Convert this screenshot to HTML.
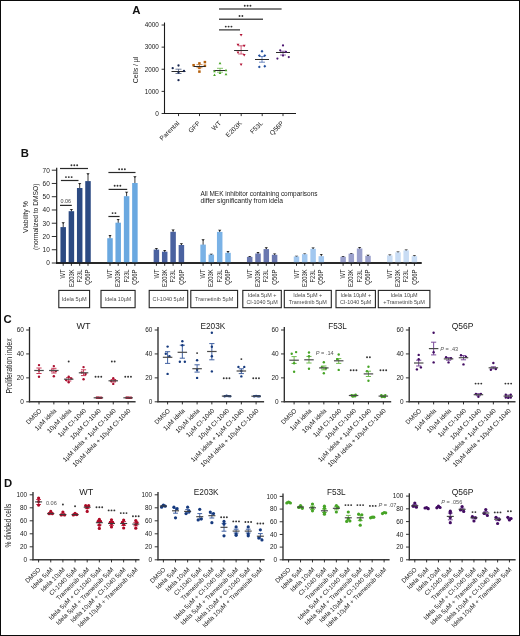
<!DOCTYPE html>
<html><head><meta charset="utf-8"><title>Figure</title>
<style>
html,body{margin:0;padding:0;background:#fff;}
body{width:520px;height:636px;overflow:hidden;font-family:"Liberation Sans",sans-serif;}
svg{display:block;will-change:transform;}
text{font-family:"Liberation Sans",sans-serif;}
</style></head><body>
<svg width="520" height="636" viewBox="0 0 520 636" font-family="Liberation Sans, sans-serif">
<rect x="0" y="0" width="520" height="636" fill="#fff"/>
<text x="132.2" y="13.6" font-size="11.4" fill="#111" font-weight="bold">A</text>
<line x1="164.5" y1="22.5" x2="164.5" y2="114" stroke="#1a1a1a" stroke-width="1.1"/>
<line x1="164" y1="113.5" x2="296" y2="113.5" stroke="#1a1a1a" stroke-width="1.1"/>
<line x1="161.6" y1="113.5" x2="164.5" y2="113.5" stroke="#1a1a1a" stroke-width="0.9"/>
<text x="158.8" y="115.85" font-size="6.5" fill="#202020" text-anchor="end" textLength="3.6" lengthAdjust="spacingAndGlyphs">0</text>
<line x1="161.6" y1="91.38" x2="164.5" y2="91.38" stroke="#1a1a1a" stroke-width="0.9"/>
<text x="158.8" y="93.73" font-size="6.5" fill="#202020" text-anchor="end" textLength="14.1" lengthAdjust="spacingAndGlyphs">1000</text>
<line x1="161.6" y1="69.26" x2="164.5" y2="69.26" stroke="#1a1a1a" stroke-width="0.9"/>
<text x="158.8" y="71.61" font-size="6.5" fill="#202020" text-anchor="end" textLength="14.1" lengthAdjust="spacingAndGlyphs">2000</text>
<line x1="161.6" y1="47.14" x2="164.5" y2="47.14" stroke="#1a1a1a" stroke-width="0.9"/>
<text x="158.8" y="49.49" font-size="6.5" fill="#202020" text-anchor="end" textLength="14.1" lengthAdjust="spacingAndGlyphs">3000</text>
<line x1="161.6" y1="25.02" x2="164.5" y2="25.02" stroke="#1a1a1a" stroke-width="0.9"/>
<text x="158.8" y="27.37" font-size="6.5" fill="#202020" text-anchor="end" textLength="14.1" lengthAdjust="spacingAndGlyphs">4000</text>
<text x="138.5" y="69.9" font-size="7.6" fill="#202020" text-anchor="middle" transform="rotate(-90 138.5 69.9)" textLength="26.6" lengthAdjust="spacingAndGlyphs">Cells / µl</text>
<line x1="178.5" y1="113.5" x2="178.5" y2="116.1" stroke="#1a1a1a" stroke-width="0.9"/>
<text x="179.7" y="123.7" font-size="6.6" fill="#202020" text-anchor="end" transform="rotate(-45 179.7 123.7)">Parental</text>
<line x1="199.5" y1="113.5" x2="199.5" y2="116.1" stroke="#1a1a1a" stroke-width="0.9"/>
<text x="200.7" y="123.7" font-size="6.6" fill="#202020" text-anchor="end" transform="rotate(-45 200.7 123.7)">GFP</text>
<line x1="220.3" y1="113.5" x2="220.3" y2="116.1" stroke="#1a1a1a" stroke-width="0.9"/>
<text x="221.5" y="123.7" font-size="6.6" fill="#202020" text-anchor="end" transform="rotate(-45 221.5 123.7)">WT</text>
<line x1="241.2" y1="113.5" x2="241.2" y2="116.1" stroke="#1a1a1a" stroke-width="0.9"/>
<text x="242.4" y="123.7" font-size="6.6" fill="#202020" text-anchor="end" transform="rotate(-45 242.4 123.7)">E203K</text>
<line x1="262.2" y1="113.5" x2="262.2" y2="116.1" stroke="#1a1a1a" stroke-width="0.9"/>
<text x="263.4" y="123.7" font-size="6.6" fill="#202020" text-anchor="end" transform="rotate(-45 263.4 123.7)">F53L</text>
<line x1="283" y1="113.5" x2="283" y2="116.1" stroke="#1a1a1a" stroke-width="0.9"/>
<text x="284.2" y="123.7" font-size="6.6" fill="#202020" text-anchor="end" transform="rotate(-45 284.2 123.7)">Q56P</text>
<line x1="219" y1="9.1" x2="281.6" y2="9.1" stroke="#585858" stroke-width="1.5"/>
<circle cx="244.75" cy="5.8" r="0.95" fill="#333"/>
<circle cx="247.6" cy="5.8" r="0.95" fill="#333"/>
<circle cx="250.45" cy="5.8" r="0.95" fill="#333"/>
<line x1="219" y1="19.3" x2="263" y2="19.3" stroke="#505050" stroke-width="1.5"/>
<circle cx="239.52" cy="16" r="0.95" fill="#333"/>
<circle cx="242.38" cy="16" r="0.95" fill="#333"/>
<line x1="219" y1="29.85" x2="240" y2="29.85" stroke="#585858" stroke-width="1.5"/>
<circle cx="225.75" cy="26.6" r="0.95" fill="#333"/>
<circle cx="228.6" cy="26.6" r="0.95" fill="#333"/>
<circle cx="231.45" cy="26.6" r="0.95" fill="#333"/>
<line x1="178.5" y1="69.2" x2="178.5" y2="73.5" stroke="#4a5a80" stroke-width="0.8"/>
<line x1="175.5" y1="69.2" x2="181.5" y2="69.2" stroke="#4a5a80" stroke-width="0.8"/>
<line x1="175.5" y1="73.5" x2="181.5" y2="73.5" stroke="#4a5a80" stroke-width="0.8"/>
<line x1="171.5" y1="71.5" x2="185.5" y2="71.5" stroke="#2a2a2a" stroke-width="1"/>
<circle cx="178.5" cy="65.5" r="1.15" fill="#1a2852"/>
<circle cx="172.7" cy="68.2" r="1.15" fill="#1a2852"/>
<circle cx="184" cy="71" r="1.15" fill="#1a2852"/>
<circle cx="178.5" cy="80.2" r="1.15" fill="#1a2852"/>
<circle cx="178.5" cy="72.6" r="1.15" fill="#1a2852"/>
<rect x="192.35" y="63.95" width="2.5" height="2.5" fill="#b5600c"/>
<rect x="198.15" y="62.15" width="2.5" height="2.5" fill="#b5600c"/>
<rect x="203.65" y="60.85" width="2.5" height="2.5" fill="#b5600c"/>
<rect x="203.65" y="64.55" width="2.5" height="2.5" fill="#b5600c"/>
<rect x="198.15" y="66.65" width="2.5" height="2.5" fill="#b5600c"/>
<rect x="198.15" y="70.35" width="2.5" height="2.5" fill="#b5600c"/>
<line x1="199.5" y1="64.6" x2="199.5" y2="67.7" stroke="#c07a3a" stroke-width="0.8"/>
<line x1="196.5" y1="64.6" x2="202.5" y2="64.6" stroke="#c07a3a" stroke-width="0.8"/>
<line x1="196.5" y1="67.7" x2="202.5" y2="67.7" stroke="#c07a3a" stroke-width="0.8"/>
<line x1="193.5" y1="66.5" x2="205.5" y2="66.5" stroke="#2a2a2a" stroke-width="1"/>
<line x1="220" y1="68.3" x2="220" y2="72.2" stroke="#6ab84a" stroke-width="0.8"/>
<line x1="217" y1="68.3" x2="223" y2="68.3" stroke="#6ab84a" stroke-width="0.8"/>
<line x1="217" y1="72.2" x2="223" y2="72.2" stroke="#6ab84a" stroke-width="0.8"/>
<line x1="213.5" y1="70.5" x2="226.5" y2="70.5" stroke="#2a2a2a" stroke-width="1"/>
<polygon points="220,61.74 218.6,64.26 221.4,64.26" fill="#48a526"/>
<polygon points="214.5,69.74 213.1,72.26 215.9,72.26" fill="#48a526"/>
<polygon points="226,68.74 224.6,71.26 227.4,71.26" fill="#48a526"/>
<polygon points="214.5,73.44 213.1,75.96 215.9,75.96" fill="#48a526"/>
<polygon points="226,72.84 224.6,75.36 227.4,75.36" fill="#48a526"/>
<polygon points="220,71.54 218.6,74.06 221.4,74.06" fill="#48a526"/>
<line x1="241.1" y1="45.8" x2="241.1" y2="54" stroke="#c4385a" stroke-width="0.8"/>
<line x1="238.1" y1="45.8" x2="244.1" y2="45.8" stroke="#c4385a" stroke-width="0.8"/>
<line x1="238.1" y1="54" x2="244.1" y2="54" stroke="#c4385a" stroke-width="0.8"/>
<line x1="234.1" y1="50.5" x2="248.1" y2="50.5" stroke="#2a2a2a" stroke-width="1"/>
<polygon points="241.1,36.51 239.65,33.9 242.55,33.9" fill="#b21234"/>
<polygon points="238,46.3 236.55,43.7 239.45,43.7" fill="#b21234"/>
<polygon points="244.2,47.3 242.75,44.7 245.65,44.7" fill="#b21234"/>
<polygon points="238,54.1 236.55,51.49 239.45,51.49" fill="#b21234"/>
<polygon points="244.2,56.51 242.75,53.9 245.65,53.9" fill="#b21234"/>
<polygon points="241.1,66.01 239.65,63.4 242.55,63.4" fill="#b21234"/>
<line x1="262" y1="56.5" x2="262" y2="62.2" stroke="#4a6cb0" stroke-width="0.8"/>
<line x1="259" y1="56.5" x2="265" y2="56.5" stroke="#4a6cb0" stroke-width="0.8"/>
<line x1="259" y1="62.2" x2="265" y2="62.2" stroke="#4a6cb0" stroke-width="0.8"/>
<line x1="255" y1="59.5" x2="269" y2="59.5" stroke="#2a2a2a" stroke-width="1"/>
<polygon points="262,49.75 263.45,51.2 262,52.65 260.55,51.2" fill="#1f4c9c"/>
<polygon points="259.3,54.15 260.75,55.6 259.3,57.05 257.85,55.6" fill="#1f4c9c"/>
<polygon points="264.8,54.15 266.25,55.6 264.8,57.05 263.35,55.6" fill="#1f4c9c"/>
<polygon points="259.3,65.45 260.75,66.9 259.3,68.35 257.85,66.9" fill="#1f4c9c"/>
<polygon points="264.8,64.85 266.25,66.3 264.8,67.75 263.35,66.3" fill="#1f4c9c"/>
<line x1="283" y1="51.2" x2="283" y2="55" stroke="#7a4a9a" stroke-width="0.8"/>
<line x1="280" y1="51.2" x2="286" y2="51.2" stroke="#7a4a9a" stroke-width="0.8"/>
<line x1="280" y1="55" x2="286" y2="55" stroke="#7a4a9a" stroke-width="0.8"/>
<line x1="276" y1="52.5" x2="290" y2="52.5" stroke="#2a2a2a" stroke-width="1"/>
<circle cx="283" cy="45.4" r="1.1" fill="#4c1672"/>
<circle cx="280.2" cy="50.3" r="1.1" fill="#4c1672"/>
<circle cx="286" cy="51.9" r="1.1" fill="#4c1672"/>
<circle cx="283" cy="55.6" r="1.1" fill="#4c1672"/>
<circle cx="277.4" cy="58.6" r="1.1" fill="#4c1672"/>
<circle cx="288.8" cy="57.1" r="1.1" fill="#4c1672"/>
<text x="20.7" y="157" font-size="11.3" fill="#111" font-weight="bold">B</text>
<line x1="56.7" y1="167.8" x2="56.7" y2="263.6" stroke="#1a1a1a" stroke-width="1.2"/>
<line x1="56.1" y1="263" x2="421.6" y2="263" stroke="#1a1a1a" stroke-width="1.5"/>
<line x1="51.8" y1="263" x2="56.7" y2="263" stroke="#1a1a1a" stroke-width="0.9"/>
<text x="49.8" y="265.3" font-size="6.5" fill="#202020" text-anchor="end" textLength="3.6" lengthAdjust="spacingAndGlyphs">0</text>
<line x1="51.8" y1="249.74" x2="56.7" y2="249.74" stroke="#1a1a1a" stroke-width="0.9"/>
<text x="49.8" y="252.04" font-size="6.5" fill="#202020" text-anchor="end" textLength="7.2" lengthAdjust="spacingAndGlyphs">10</text>
<line x1="51.8" y1="236.49" x2="56.7" y2="236.49" stroke="#1a1a1a" stroke-width="0.9"/>
<text x="49.8" y="238.79" font-size="6.5" fill="#202020" text-anchor="end" textLength="7.2" lengthAdjust="spacingAndGlyphs">20</text>
<line x1="51.8" y1="223.23" x2="56.7" y2="223.23" stroke="#1a1a1a" stroke-width="0.9"/>
<text x="49.8" y="225.53" font-size="6.5" fill="#202020" text-anchor="end" textLength="7.2" lengthAdjust="spacingAndGlyphs">30</text>
<line x1="51.8" y1="209.97" x2="56.7" y2="209.97" stroke="#1a1a1a" stroke-width="0.9"/>
<text x="49.8" y="212.27" font-size="6.5" fill="#202020" text-anchor="end" textLength="7.2" lengthAdjust="spacingAndGlyphs">40</text>
<line x1="51.8" y1="196.71" x2="56.7" y2="196.71" stroke="#1a1a1a" stroke-width="0.9"/>
<text x="49.8" y="199.01" font-size="6.5" fill="#202020" text-anchor="end" textLength="7.2" lengthAdjust="spacingAndGlyphs">50</text>
<line x1="51.8" y1="183.46" x2="56.7" y2="183.46" stroke="#1a1a1a" stroke-width="0.9"/>
<text x="49.8" y="185.76" font-size="6.5" fill="#202020" text-anchor="end" textLength="7.2" lengthAdjust="spacingAndGlyphs">60</text>
<line x1="51.8" y1="170.2" x2="56.7" y2="170.2" stroke="#1a1a1a" stroke-width="0.9"/>
<text x="49.8" y="172.5" font-size="6.5" fill="#202020" text-anchor="end" textLength="7.2" lengthAdjust="spacingAndGlyphs">70</text>
<text x="28.3" y="217.1" font-size="7" fill="#202020" text-anchor="middle" transform="rotate(-90 28.3 217.1)" textLength="31.8" lengthAdjust="spacingAndGlyphs">Viability %</text>
<text x="38.3" y="216.8" font-size="7" fill="#202020" text-anchor="middle" transform="rotate(-90 38.3 216.8)" textLength="66.5" lengthAdjust="spacingAndGlyphs">(normalized to DMSO)</text>
<line x1="63.2" y1="222.6" x2="63.2" y2="227.6" stroke="#3a3a3a" stroke-width="1"/>
<polygon points="61.5,222.3 64.9,222.3 63.2,224" fill="#222"/>
<rect x="60.45" y="227.1" width="5.5" height="35.9" fill="#2c4a82"/>
<line x1="71.4" y1="209.4" x2="71.4" y2="211.7" stroke="#3a3a3a" stroke-width="1"/>
<polygon points="69.7,209.1 73.1,209.1 71.4,210.8" fill="#222"/>
<rect x="68.65" y="211.2" width="5.5" height="51.8" fill="#2c4a82"/>
<line x1="79.7" y1="183.4" x2="79.7" y2="188.5" stroke="#3a3a3a" stroke-width="1"/>
<polygon points="78,183.1 81.4,183.1 79.7,184.8" fill="#222"/>
<rect x="76.95" y="188" width="5.5" height="75" fill="#2c4a82"/>
<line x1="88" y1="173.5" x2="88" y2="181.6" stroke="#3a3a3a" stroke-width="1"/>
<polygon points="86.3,173.2 89.7,173.2 88,174.9" fill="#222"/>
<rect x="85.25" y="181.1" width="5.5" height="81.9" fill="#2c4a82"/>
<line x1="63.2" y1="263" x2="63.2" y2="265.8" stroke="#1a1a1a" stroke-width="0.9"/>
<text x="65.4" y="269.4" font-size="6.3" fill="#202020" text-anchor="end" transform="rotate(-90 65.4 269.4)" textLength="9" lengthAdjust="spacingAndGlyphs">WT</text>
<line x1="71.4" y1="263" x2="71.4" y2="265.8" stroke="#1a1a1a" stroke-width="0.9"/>
<text x="73.6" y="269.4" font-size="6.3" fill="#202020" text-anchor="end" transform="rotate(-90 73.6 269.4)" textLength="17.6" lengthAdjust="spacingAndGlyphs">E203K</text>
<line x1="79.7" y1="263" x2="79.7" y2="265.8" stroke="#1a1a1a" stroke-width="0.9"/>
<text x="81.9" y="269.4" font-size="6.3" fill="#202020" text-anchor="end" transform="rotate(-90 81.9 269.4)" textLength="13.2" lengthAdjust="spacingAndGlyphs">F23L</text>
<line x1="88" y1="263" x2="88" y2="265.8" stroke="#1a1a1a" stroke-width="0.9"/>
<text x="90.2" y="269.4" font-size="6.3" fill="#202020" text-anchor="end" transform="rotate(-90 90.2 269.4)" textLength="15.3" lengthAdjust="spacingAndGlyphs">Q56P</text>
<line x1="110" y1="235.4" x2="110" y2="238.7" stroke="#3a3a3a" stroke-width="1"/>
<polygon points="108.3,235.1 111.7,235.1 110,236.8" fill="#222"/>
<rect x="107.25" y="238.2" width="5.5" height="24.8" fill="#6aa8e0"/>
<line x1="118.2" y1="219.2" x2="118.2" y2="223.2" stroke="#3a3a3a" stroke-width="1"/>
<polygon points="116.5,218.9 119.9,218.9 118.2,220.6" fill="#222"/>
<rect x="115.45" y="222.7" width="5.5" height="40.3" fill="#6aa8e0"/>
<line x1="126.6" y1="192" x2="126.6" y2="196.7" stroke="#3a3a3a" stroke-width="1"/>
<polygon points="124.9,191.7 128.3,191.7 126.6,193.4" fill="#222"/>
<rect x="123.85" y="196.2" width="5.5" height="66.8" fill="#6aa8e0"/>
<line x1="134.9" y1="176.5" x2="134.9" y2="183.5" stroke="#3a3a3a" stroke-width="1"/>
<polygon points="133.2,176.2 136.6,176.2 134.9,177.9" fill="#222"/>
<rect x="132.15" y="183" width="5.5" height="80" fill="#6aa8e0"/>
<line x1="110" y1="263" x2="110" y2="265.8" stroke="#1a1a1a" stroke-width="0.9"/>
<text x="112.2" y="269.4" font-size="6.3" fill="#202020" text-anchor="end" transform="rotate(-90 112.2 269.4)" textLength="9" lengthAdjust="spacingAndGlyphs">WT</text>
<line x1="118.2" y1="263" x2="118.2" y2="265.8" stroke="#1a1a1a" stroke-width="0.9"/>
<text x="120.4" y="269.4" font-size="6.3" fill="#202020" text-anchor="end" transform="rotate(-90 120.4 269.4)" textLength="17.6" lengthAdjust="spacingAndGlyphs">E203K</text>
<line x1="126.6" y1="263" x2="126.6" y2="265.8" stroke="#1a1a1a" stroke-width="0.9"/>
<text x="128.8" y="269.4" font-size="6.3" fill="#202020" text-anchor="end" transform="rotate(-90 128.8 269.4)" textLength="13.2" lengthAdjust="spacingAndGlyphs">F23L</text>
<line x1="134.9" y1="263" x2="134.9" y2="265.8" stroke="#1a1a1a" stroke-width="0.9"/>
<text x="137.1" y="269.4" font-size="6.3" fill="#202020" text-anchor="end" transform="rotate(-90 137.1 269.4)" textLength="15.3" lengthAdjust="spacingAndGlyphs">Q56P</text>
<line x1="156.4" y1="248.3" x2="156.4" y2="250.1" stroke="#3a3a3a" stroke-width="1"/>
<polygon points="154.7,248 158.1,248 156.4,249.7" fill="#222"/>
<rect x="153.65" y="249.6" width="5.5" height="13.4" fill="#4a62a0"/>
<line x1="164.7" y1="250.4" x2="164.7" y2="252.2" stroke="#3a3a3a" stroke-width="1"/>
<polygon points="163,250.1 166.4,250.1 164.7,251.8" fill="#222"/>
<rect x="161.95" y="251.7" width="5.5" height="11.3" fill="#4a62a0"/>
<line x1="173.1" y1="229.8" x2="173.1" y2="232.3" stroke="#3a3a3a" stroke-width="1"/>
<polygon points="171.4,229.5 174.8,229.5 173.1,231.2" fill="#222"/>
<rect x="170.35" y="231.8" width="5.5" height="31.2" fill="#4a62a0"/>
<line x1="181.4" y1="243.5" x2="181.4" y2="245.5" stroke="#3a3a3a" stroke-width="1"/>
<polygon points="179.7,243.2 183.1,243.2 181.4,244.9" fill="#222"/>
<rect x="178.65" y="245" width="5.5" height="18" fill="#4a62a0"/>
<line x1="156.4" y1="263" x2="156.4" y2="265.8" stroke="#1a1a1a" stroke-width="0.9"/>
<text x="158.6" y="269.4" font-size="6.3" fill="#202020" text-anchor="end" transform="rotate(-90 158.6 269.4)" textLength="9" lengthAdjust="spacingAndGlyphs">WT</text>
<line x1="164.7" y1="263" x2="164.7" y2="265.8" stroke="#1a1a1a" stroke-width="0.9"/>
<text x="166.9" y="269.4" font-size="6.3" fill="#202020" text-anchor="end" transform="rotate(-90 166.9 269.4)" textLength="17.6" lengthAdjust="spacingAndGlyphs">E203K</text>
<line x1="173.1" y1="263" x2="173.1" y2="265.8" stroke="#1a1a1a" stroke-width="0.9"/>
<text x="175.3" y="269.4" font-size="6.3" fill="#202020" text-anchor="end" transform="rotate(-90 175.3 269.4)" textLength="13.2" lengthAdjust="spacingAndGlyphs">F23L</text>
<line x1="181.4" y1="263" x2="181.4" y2="265.8" stroke="#1a1a1a" stroke-width="0.9"/>
<text x="183.6" y="269.4" font-size="6.3" fill="#202020" text-anchor="end" transform="rotate(-90 183.6 269.4)" textLength="15.3" lengthAdjust="spacingAndGlyphs">Q56P</text>
<line x1="203.1" y1="239.5" x2="203.1" y2="245.1" stroke="#3a3a3a" stroke-width="1"/>
<polygon points="201.4,239.2 204.8,239.2 203.1,240.9" fill="#222"/>
<rect x="200.35" y="244.6" width="5.5" height="18.4" fill="#7ab2e6"/>
<line x1="211.3" y1="254" x2="211.3" y2="255.1" stroke="#3a3a3a" stroke-width="1"/>
<polygon points="209.6,253.7 213,253.7 211.3,255.4" fill="#222"/>
<rect x="208.55" y="254.6" width="5.5" height="8.4" fill="#7ab2e6"/>
<line x1="219.7" y1="230" x2="219.7" y2="232.4" stroke="#3a3a3a" stroke-width="1"/>
<polygon points="218,229.7 221.4,229.7 219.7,231.4" fill="#222"/>
<rect x="216.95" y="231.9" width="5.5" height="31.1" fill="#7ab2e6"/>
<line x1="228" y1="251.3" x2="228" y2="253.3" stroke="#3a3a3a" stroke-width="1"/>
<polygon points="226.3,251 229.7,251 228,252.7" fill="#222"/>
<rect x="225.25" y="252.8" width="5.5" height="10.2" fill="#7ab2e6"/>
<line x1="203.1" y1="263" x2="203.1" y2="265.8" stroke="#1a1a1a" stroke-width="0.9"/>
<text x="205.3" y="269.4" font-size="6.3" fill="#202020" text-anchor="end" transform="rotate(-90 205.3 269.4)" textLength="9" lengthAdjust="spacingAndGlyphs">WT</text>
<line x1="211.3" y1="263" x2="211.3" y2="265.8" stroke="#1a1a1a" stroke-width="0.9"/>
<text x="213.5" y="269.4" font-size="6.3" fill="#202020" text-anchor="end" transform="rotate(-90 213.5 269.4)" textLength="17.6" lengthAdjust="spacingAndGlyphs">E203K</text>
<line x1="219.7" y1="263" x2="219.7" y2="265.8" stroke="#1a1a1a" stroke-width="0.9"/>
<text x="221.9" y="269.4" font-size="6.3" fill="#202020" text-anchor="end" transform="rotate(-90 221.9 269.4)" textLength="13.2" lengthAdjust="spacingAndGlyphs">F23L</text>
<line x1="228" y1="263" x2="228" y2="265.8" stroke="#1a1a1a" stroke-width="0.9"/>
<text x="230.2" y="269.4" font-size="6.3" fill="#202020" text-anchor="end" transform="rotate(-90 230.2 269.4)" textLength="15.3" lengthAdjust="spacingAndGlyphs">Q56P</text>
<line x1="249.7" y1="256.2" x2="249.7" y2="257.4" stroke="#3a3a3a" stroke-width="1"/>
<polygon points="248,255.9 251.4,255.9 249.7,257.6" fill="#222"/>
<rect x="246.95" y="256.9" width="5.5" height="6.1" fill="#6a78b0"/>
<line x1="258" y1="252.3" x2="258" y2="254" stroke="#3a3a3a" stroke-width="1"/>
<polygon points="256.3,252 259.7,252 258,253.7" fill="#222"/>
<rect x="255.25" y="253.5" width="5.5" height="9.5" fill="#6a78b0"/>
<line x1="266.3" y1="247.5" x2="266.3" y2="249.6" stroke="#3a3a3a" stroke-width="1"/>
<polygon points="264.6,247.2 268,247.2 266.3,248.9" fill="#222"/>
<rect x="263.55" y="249.1" width="5.5" height="13.9" fill="#6a78b0"/>
<line x1="274.6" y1="253.7" x2="274.6" y2="255.3" stroke="#3a3a3a" stroke-width="1"/>
<polygon points="272.9,253.4 276.3,253.4 274.6,255.1" fill="#222"/>
<rect x="271.85" y="254.8" width="5.5" height="8.2" fill="#6a78b0"/>
<line x1="249.7" y1="263" x2="249.7" y2="265.8" stroke="#1a1a1a" stroke-width="0.9"/>
<text x="251.9" y="269.4" font-size="6.3" fill="#202020" text-anchor="end" transform="rotate(-90 251.9 269.4)" textLength="9" lengthAdjust="spacingAndGlyphs">WT</text>
<line x1="258" y1="263" x2="258" y2="265.8" stroke="#1a1a1a" stroke-width="0.9"/>
<text x="260.2" y="269.4" font-size="6.3" fill="#202020" text-anchor="end" transform="rotate(-90 260.2 269.4)" textLength="17.6" lengthAdjust="spacingAndGlyphs">E203K</text>
<line x1="266.3" y1="263" x2="266.3" y2="265.8" stroke="#1a1a1a" stroke-width="0.9"/>
<text x="268.5" y="269.4" font-size="6.3" fill="#202020" text-anchor="end" transform="rotate(-90 268.5 269.4)" textLength="13.2" lengthAdjust="spacingAndGlyphs">F23L</text>
<line x1="274.6" y1="263" x2="274.6" y2="265.8" stroke="#1a1a1a" stroke-width="0.9"/>
<text x="276.8" y="269.4" font-size="6.3" fill="#202020" text-anchor="end" transform="rotate(-90 276.8 269.4)" textLength="15.3" lengthAdjust="spacingAndGlyphs">Q56P</text>
<line x1="296.5" y1="256" x2="296.5" y2="257" stroke="#3a3a3a" stroke-width="1"/>
<polygon points="294.8,255.7 298.2,255.7 296.5,257.4" fill="#222"/>
<rect x="293.75" y="256.5" width="5.5" height="6.5" fill="#a2c8f0"/>
<line x1="304.7" y1="253.7" x2="304.7" y2="254.7" stroke="#3a3a3a" stroke-width="1"/>
<polygon points="303,253.4 306.4,253.4 304.7,255.1" fill="#222"/>
<rect x="301.95" y="254.2" width="5.5" height="8.8" fill="#a2c8f0"/>
<line x1="313.1" y1="247.7" x2="313.1" y2="249.3" stroke="#3a3a3a" stroke-width="1"/>
<polygon points="311.4,247.4 314.8,247.4 313.1,249.1" fill="#222"/>
<rect x="310.35" y="248.8" width="5.5" height="14.2" fill="#a2c8f0"/>
<line x1="321.3" y1="254.2" x2="321.3" y2="256.7" stroke="#3a3a3a" stroke-width="1"/>
<polygon points="319.6,253.9 323,253.9 321.3,255.6" fill="#222"/>
<rect x="318.55" y="256.2" width="5.5" height="6.8" fill="#a2c8f0"/>
<line x1="296.5" y1="263" x2="296.5" y2="265.8" stroke="#1a1a1a" stroke-width="0.9"/>
<text x="298.7" y="269.4" font-size="6.3" fill="#202020" text-anchor="end" transform="rotate(-90 298.7 269.4)" textLength="9" lengthAdjust="spacingAndGlyphs">WT</text>
<line x1="304.7" y1="263" x2="304.7" y2="265.8" stroke="#1a1a1a" stroke-width="0.9"/>
<text x="306.9" y="269.4" font-size="6.3" fill="#202020" text-anchor="end" transform="rotate(-90 306.9 269.4)" textLength="17.6" lengthAdjust="spacingAndGlyphs">E203K</text>
<line x1="313.1" y1="263" x2="313.1" y2="265.8" stroke="#1a1a1a" stroke-width="0.9"/>
<text x="315.3" y="269.4" font-size="6.3" fill="#202020" text-anchor="end" transform="rotate(-90 315.3 269.4)" textLength="13.2" lengthAdjust="spacingAndGlyphs">F23L</text>
<line x1="321.3" y1="263" x2="321.3" y2="265.8" stroke="#1a1a1a" stroke-width="0.9"/>
<text x="323.5" y="269.4" font-size="6.3" fill="#202020" text-anchor="end" transform="rotate(-90 323.5 269.4)" textLength="15.3" lengthAdjust="spacingAndGlyphs">Q56P</text>
<line x1="343.1" y1="256.3" x2="343.1" y2="257.3" stroke="#3a3a3a" stroke-width="1"/>
<polygon points="341.4,256 344.8,256 343.1,257.7" fill="#222"/>
<rect x="340.35" y="256.8" width="5.5" height="6.2" fill="#9aa0cc"/>
<line x1="351.3" y1="253.2" x2="351.3" y2="254.2" stroke="#3a3a3a" stroke-width="1"/>
<polygon points="349.6,252.9 353,252.9 351.3,254.6" fill="#222"/>
<rect x="348.55" y="253.7" width="5.5" height="9.3" fill="#9aa0cc"/>
<line x1="359.6" y1="247.3" x2="359.6" y2="249" stroke="#3a3a3a" stroke-width="1"/>
<polygon points="357.9,247 361.3,247 359.6,248.7" fill="#222"/>
<rect x="356.85" y="248.5" width="5.5" height="14.5" fill="#9aa0cc"/>
<line x1="368" y1="255" x2="368" y2="256.3" stroke="#3a3a3a" stroke-width="1"/>
<polygon points="366.3,254.7 369.7,254.7 368,256.4" fill="#222"/>
<rect x="365.25" y="255.8" width="5.5" height="7.2" fill="#9aa0cc"/>
<line x1="343.1" y1="263" x2="343.1" y2="265.8" stroke="#1a1a1a" stroke-width="0.9"/>
<text x="345.3" y="269.4" font-size="6.3" fill="#202020" text-anchor="end" transform="rotate(-90 345.3 269.4)" textLength="9" lengthAdjust="spacingAndGlyphs">WT</text>
<line x1="351.3" y1="263" x2="351.3" y2="265.8" stroke="#1a1a1a" stroke-width="0.9"/>
<text x="353.5" y="269.4" font-size="6.3" fill="#202020" text-anchor="end" transform="rotate(-90 353.5 269.4)" textLength="17.6" lengthAdjust="spacingAndGlyphs">E203K</text>
<line x1="359.6" y1="263" x2="359.6" y2="265.8" stroke="#1a1a1a" stroke-width="0.9"/>
<text x="361.8" y="269.4" font-size="6.3" fill="#202020" text-anchor="end" transform="rotate(-90 361.8 269.4)" textLength="13.2" lengthAdjust="spacingAndGlyphs">F23L</text>
<line x1="368" y1="263" x2="368" y2="265.8" stroke="#1a1a1a" stroke-width="0.9"/>
<text x="370.2" y="269.4" font-size="6.3" fill="#202020" text-anchor="end" transform="rotate(-90 370.2 269.4)" textLength="15.3" lengthAdjust="spacingAndGlyphs">Q56P</text>
<line x1="389.8" y1="254.8" x2="389.8" y2="255.9" stroke="#3a3a3a" stroke-width="1"/>
<polygon points="388.1,254.5 391.5,254.5 389.8,256.2" fill="#222"/>
<rect x="387.05" y="255.4" width="5.5" height="7.6" fill="#c8dcf4"/>
<line x1="398" y1="251.8" x2="398" y2="252.8" stroke="#3a3a3a" stroke-width="1"/>
<polygon points="396.3,251.5 399.7,251.5 398,253.2" fill="#222"/>
<rect x="395.25" y="252.3" width="5.5" height="10.7" fill="#c8dcf4"/>
<line x1="406.2" y1="249.8" x2="406.2" y2="250.9" stroke="#3a3a3a" stroke-width="1"/>
<polygon points="404.5,249.5 407.9,249.5 406.2,251.2" fill="#222"/>
<rect x="403.45" y="250.4" width="5.5" height="12.6" fill="#c8dcf4"/>
<line x1="414.4" y1="255.6" x2="414.4" y2="256.7" stroke="#3a3a3a" stroke-width="1"/>
<polygon points="412.7,255.3 416.1,255.3 414.4,257" fill="#222"/>
<rect x="411.65" y="256.2" width="5.5" height="6.8" fill="#c8dcf4"/>
<line x1="389.8" y1="263" x2="389.8" y2="265.8" stroke="#1a1a1a" stroke-width="0.9"/>
<text x="392" y="269.4" font-size="6.3" fill="#202020" text-anchor="end" transform="rotate(-90 392 269.4)" textLength="9" lengthAdjust="spacingAndGlyphs">WT</text>
<line x1="398" y1="263" x2="398" y2="265.8" stroke="#1a1a1a" stroke-width="0.9"/>
<text x="400.2" y="269.4" font-size="6.3" fill="#202020" text-anchor="end" transform="rotate(-90 400.2 269.4)" textLength="17.6" lengthAdjust="spacingAndGlyphs">E203K</text>
<line x1="406.2" y1="263" x2="406.2" y2="265.8" stroke="#1a1a1a" stroke-width="0.9"/>
<text x="408.4" y="269.4" font-size="6.3" fill="#202020" text-anchor="end" transform="rotate(-90 408.4 269.4)" textLength="13.2" lengthAdjust="spacingAndGlyphs">F23L</text>
<line x1="414.4" y1="263" x2="414.4" y2="265.8" stroke="#1a1a1a" stroke-width="0.9"/>
<text x="416.6" y="269.4" font-size="6.3" fill="#202020" text-anchor="end" transform="rotate(-90 416.6 269.4)" textLength="15.3" lengthAdjust="spacingAndGlyphs">Q56P</text>
<line x1="56.1" y1="263" x2="421.6" y2="263" stroke="#1a1a1a" stroke-width="1.5"/>
<line x1="60" y1="168.5" x2="88" y2="168.5" stroke="#2a2a2a" stroke-width="1.2"/>
<circle cx="71.45" cy="165.2" r="0.95" fill="#333"/>
<circle cx="74.3" cy="165.2" r="0.95" fill="#333"/>
<circle cx="77.15" cy="165.2" r="0.95" fill="#333"/>
<line x1="60.9" y1="180.5" x2="78.5" y2="180.5" stroke="#2a2a2a" stroke-width="1.2"/>
<circle cx="65.95" cy="177.1" r="0.95" fill="#333"/>
<circle cx="68.8" cy="177.1" r="0.95" fill="#333"/>
<circle cx="71.65" cy="177.1" r="0.95" fill="#333"/>
<line x1="60" y1="205.4" x2="71.8" y2="205.4" stroke="#2a2a2a" stroke-width="1.2"/>
<text x="60.4" y="202.8" font-size="5.6" fill="#444" textLength="10.6" lengthAdjust="spacingAndGlyphs">0.06</text>
<line x1="108.4" y1="172.5" x2="135.5" y2="172.5" stroke="#2a2a2a" stroke-width="1.2"/>
<circle cx="119.15" cy="169.2" r="0.95" fill="#333"/>
<circle cx="122" cy="169.2" r="0.95" fill="#333"/>
<circle cx="124.85" cy="169.2" r="0.95" fill="#333"/>
<line x1="108.6" y1="189.4" x2="127.2" y2="189.4" stroke="#2a2a2a" stroke-width="1.2"/>
<circle cx="114.65" cy="185.8" r="0.95" fill="#333"/>
<circle cx="117.5" cy="185.8" r="0.95" fill="#333"/>
<circle cx="120.35" cy="185.8" r="0.95" fill="#333"/>
<line x1="108.4" y1="216.5" x2="119.6" y2="216.5" stroke="#2a2a2a" stroke-width="1.2"/>
<circle cx="112.58" cy="213.1" r="0.95" fill="#333"/>
<circle cx="115.42" cy="213.1" r="0.95" fill="#333"/>
<text x="200.5" y="196.3" font-size="6.4" fill="#222" textLength="117" lengthAdjust="spacingAndGlyphs">All MEK inhibitor containing comparisons</text>
<text x="200.5" y="203.2" font-size="6.4" fill="#222" textLength="82.5" lengthAdjust="spacingAndGlyphs">differ significantly from idela</text>
<rect x="58.8" y="290.4" width="30.8" height="17.3" fill="none" stroke="#222" stroke-width="1.1"/>
<text x="74.2" y="301.4" font-size="6" fill="#4a4a4a" text-anchor="middle" textLength="24.8" lengthAdjust="spacingAndGlyphs">Idela 5µM</text>
<rect x="101" y="290.4" width="34.1" height="17.3" fill="none" stroke="#222" stroke-width="1.1"/>
<text x="118.05" y="301.4" font-size="6" fill="#4a4a4a" text-anchor="middle" textLength="26.5" lengthAdjust="spacingAndGlyphs">Idela 10µM</text>
<rect x="149.2" y="290.4" width="38.5" height="17.3" fill="none" stroke="#222" stroke-width="1.1"/>
<text x="168.45" y="301.4" font-size="6" fill="#4a4a4a" text-anchor="middle" textLength="31.9" lengthAdjust="spacingAndGlyphs">CI-1040 5µM</text>
<rect x="190.8" y="290.4" width="46.8" height="17.3" fill="none" stroke="#222" stroke-width="1.1"/>
<text x="214.2" y="301.4" font-size="6" fill="#4a4a4a" text-anchor="middle" textLength="38.2" lengthAdjust="spacingAndGlyphs">Trametinib 5µM</text>
<rect x="242.8" y="290.4" width="38.5" height="17.3" fill="none" stroke="#222" stroke-width="1.1"/>
<text x="262.05" y="297.4" font-size="6" fill="#4a4a4a" text-anchor="middle" textLength="28.6" lengthAdjust="spacingAndGlyphs">Idela 5µM +</text>
<text x="262.05" y="304.1" font-size="6" fill="#4a4a4a" text-anchor="middle" textLength="31.3" lengthAdjust="spacingAndGlyphs">CI-1040 5µM</text>
<rect x="284.3" y="290.4" width="47" height="17.3" fill="none" stroke="#222" stroke-width="1.1"/>
<text x="307.8" y="297.4" font-size="6" fill="#4a4a4a" text-anchor="middle" textLength="29" lengthAdjust="spacingAndGlyphs">Idela 5µM +</text>
<text x="307.8" y="304.1" font-size="6" fill="#4a4a4a" text-anchor="middle" textLength="37.9" lengthAdjust="spacingAndGlyphs">Trametinib 5µM</text>
<rect x="336" y="290.4" width="39.4" height="17.3" fill="none" stroke="#222" stroke-width="1.1"/>
<text x="355.7" y="297.4" font-size="6" fill="#4a4a4a" text-anchor="middle" textLength="30.5" lengthAdjust="spacingAndGlyphs">Idela 10µM +</text>
<text x="355.7" y="304.1" font-size="6" fill="#4a4a4a" text-anchor="middle" textLength="31.3" lengthAdjust="spacingAndGlyphs">CI-1040 5µM</text>
<rect x="378.3" y="290.4" width="51.6" height="17.3" fill="none" stroke="#222" stroke-width="1.1"/>
<text x="404.1" y="297.4" font-size="6" fill="#4a4a4a" text-anchor="middle" textLength="27.1" lengthAdjust="spacingAndGlyphs">Idela 10µM</text>
<text x="404.1" y="304.1" font-size="6" fill="#4a4a4a" text-anchor="middle" textLength="41.7" lengthAdjust="spacingAndGlyphs">+Trametinib 5µM</text>
<text x="3.5" y="323.4" font-size="11.3" fill="#111" font-weight="bold">C</text>
<text x="11.5" y="366" font-size="8.4" fill="#202020" text-anchor="middle" transform="rotate(-90 11.5 366)" textLength="55.2" lengthAdjust="spacingAndGlyphs">Proliferation index</text>
<line x1="29.5" y1="327" x2="29.5" y2="402.3" stroke="#262626" stroke-width="1.3"/>
<line x1="28.9" y1="401.8" x2="135.6" y2="401.8" stroke="#383838" stroke-width="1.5"/>
<line x1="26.2" y1="401.8" x2="29.5" y2="401.8" stroke="#333" stroke-width="1"/>
<text x="23.9" y="404.15" font-size="6.5" fill="#202020" text-anchor="end" textLength="3.6" lengthAdjust="spacingAndGlyphs">0</text>
<line x1="26.2" y1="377.87" x2="29.5" y2="377.87" stroke="#333" stroke-width="1"/>
<text x="23.9" y="380.22" font-size="6.5" fill="#202020" text-anchor="end" textLength="7.2" lengthAdjust="spacingAndGlyphs">20</text>
<line x1="26.2" y1="353.93" x2="29.5" y2="353.93" stroke="#333" stroke-width="1"/>
<text x="23.9" y="356.28" font-size="6.5" fill="#202020" text-anchor="end" textLength="7.2" lengthAdjust="spacingAndGlyphs">40</text>
<line x1="26.2" y1="330" x2="29.5" y2="330" stroke="#333" stroke-width="1"/>
<text x="23.9" y="332.35" font-size="6.5" fill="#202020" text-anchor="end" textLength="7.2" lengthAdjust="spacingAndGlyphs">60</text>
<text x="83.6" y="329.1" font-size="9" fill="#222" text-anchor="middle">WT</text>
<line x1="39" y1="401.8" x2="39" y2="404.4" stroke="#1a1a1a" stroke-width="0.9"/>
<text x="42" y="411.2" font-size="6.4" fill="#202020" text-anchor="end" transform="rotate(-45 42 411.2)">DMSO</text>
<line x1="53.85" y1="401.8" x2="53.85" y2="404.4" stroke="#1a1a1a" stroke-width="0.9"/>
<text x="56.85" y="411.2" font-size="6.4" fill="#202020" text-anchor="end" transform="rotate(-45 56.85 411.2)">1µM idela</text>
<line x1="68.7" y1="401.8" x2="68.7" y2="404.4" stroke="#1a1a1a" stroke-width="0.9"/>
<text x="71.7" y="411.2" font-size="6.4" fill="#202020" text-anchor="end" transform="rotate(-45 71.7 411.2)">10µM idela</text>
<line x1="83.55" y1="401.8" x2="83.55" y2="404.4" stroke="#1a1a1a" stroke-width="0.9"/>
<text x="86.55" y="411.2" font-size="6.4" fill="#202020" text-anchor="end" transform="rotate(-45 86.55 411.2)">1µM CI-1040</text>
<line x1="98.4" y1="401.8" x2="98.4" y2="404.4" stroke="#1a1a1a" stroke-width="0.9"/>
<text x="101.4" y="411.2" font-size="6.4" fill="#202020" text-anchor="end" transform="rotate(-45 101.4 411.2)">10µM CI-1040</text>
<line x1="113.25" y1="401.8" x2="113.25" y2="404.4" stroke="#1a1a1a" stroke-width="0.9"/>
<text x="116.25" y="411.2" font-size="6.4" fill="#202020" text-anchor="end" transform="rotate(-45 116.25 411.2)">1µM idela + 1µM CI-1040</text>
<line x1="128.1" y1="401.8" x2="128.1" y2="404.4" stroke="#1a1a1a" stroke-width="0.9"/>
<text x="131.1" y="411.2" font-size="6.4" fill="#202020" text-anchor="end" transform="rotate(-45 131.1 411.2)">10µM idela + 10µM CI-1040</text>
<line x1="39" y1="368" x2="39" y2="373.5" stroke="#c83a58" stroke-width="1"/>
<line x1="36.4" y1="368" x2="41.6" y2="368" stroke="#c83a58" stroke-width="1"/>
<line x1="36.4" y1="373.5" x2="41.6" y2="373.5" stroke="#c83a58" stroke-width="1"/>
<circle cx="39" cy="365.1" r="1.2" fill="#aa0f2f"/>
<circle cx="39" cy="376.8" r="1.2" fill="#aa0f2f"/>
<circle cx="39" cy="370.5" r="1.2" fill="#aa0f2f"/>
<line x1="34.25" y1="370.5" x2="43.75" y2="370.5" stroke="#4a4a4a" stroke-width="1.2"/>
<line x1="53.85" y1="368.3" x2="53.85" y2="373" stroke="#c83a58" stroke-width="1"/>
<line x1="51.25" y1="368.3" x2="56.45" y2="368.3" stroke="#c83a58" stroke-width="1"/>
<line x1="51.25" y1="373" x2="56.45" y2="373" stroke="#c83a58" stroke-width="1"/>
<circle cx="53.85" cy="366.1" r="1.2" fill="#aa0f2f"/>
<circle cx="53.85" cy="376.2" r="1.2" fill="#aa0f2f"/>
<circle cx="51.85" cy="370.5" r="1.2" fill="#aa0f2f"/>
<circle cx="55.85" cy="371" r="1.2" fill="#aa0f2f"/>
<line x1="49.1" y1="370.5" x2="58.6" y2="370.5" stroke="#4a4a4a" stroke-width="1.2"/>
<line x1="68.7" y1="377.6" x2="68.7" y2="381" stroke="#c83a58" stroke-width="1"/>
<line x1="66.1" y1="377.6" x2="71.3" y2="377.6" stroke="#c83a58" stroke-width="1"/>
<line x1="66.1" y1="381" x2="71.3" y2="381" stroke="#c83a58" stroke-width="1"/>
<circle cx="68.7" cy="376.8" r="1.2" fill="#aa0f2f"/>
<circle cx="68.7" cy="382.3" r="1.2" fill="#aa0f2f"/>
<circle cx="66.1" cy="380" r="1.2" fill="#aa0f2f"/>
<circle cx="71.3" cy="378.5" r="1.2" fill="#aa0f2f"/>
<line x1="63.95" y1="379.2" x2="73.45" y2="379.2" stroke="#4a4a4a" stroke-width="1.2"/>
<line x1="83.55" y1="369.8" x2="83.55" y2="375.6" stroke="#c83a58" stroke-width="1"/>
<line x1="80.95" y1="369.8" x2="86.15" y2="369.8" stroke="#c83a58" stroke-width="1"/>
<line x1="80.95" y1="375.6" x2="86.15" y2="375.6" stroke="#c83a58" stroke-width="1"/>
<circle cx="83.55" cy="367.1" r="1.2" fill="#aa0f2f"/>
<circle cx="83.55" cy="379.2" r="1.2" fill="#aa0f2f"/>
<circle cx="81.75" cy="372.5" r="1.2" fill="#aa0f2f"/>
<circle cx="85.55" cy="374" r="1.2" fill="#aa0f2f"/>
<line x1="78.8" y1="372.8" x2="88.3" y2="372.8" stroke="#4a4a4a" stroke-width="1.2"/>
<line x1="98.4" y1="397.2" x2="98.4" y2="398.4" stroke="#c83a58" stroke-width="1"/>
<line x1="95.8" y1="397.2" x2="101" y2="397.2" stroke="#c83a58" stroke-width="1"/>
<line x1="95.8" y1="398.4" x2="101" y2="398.4" stroke="#c83a58" stroke-width="1"/>
<circle cx="96.9" cy="397.6" r="1.2" fill="#aa0f2f"/>
<circle cx="98.4" cy="397.6" r="1.2" fill="#aa0f2f"/>
<circle cx="99.9" cy="397.9" r="1.2" fill="#aa0f2f"/>
<circle cx="101.4" cy="397.8" r="1.2" fill="#aa0f2f"/>
<line x1="93.65" y1="397.8" x2="103.15" y2="397.8" stroke="#4a4a4a" stroke-width="1.2"/>
<line x1="113.25" y1="379.6" x2="113.25" y2="382" stroke="#c83a58" stroke-width="1"/>
<line x1="110.65" y1="379.6" x2="115.85" y2="379.6" stroke="#c83a58" stroke-width="1"/>
<line x1="110.65" y1="382" x2="115.85" y2="382" stroke="#c83a58" stroke-width="1"/>
<circle cx="113.25" cy="378.2" r="1.2" fill="#aa0f2f"/>
<circle cx="113.25" cy="383.9" r="1.2" fill="#aa0f2f"/>
<circle cx="111.25" cy="381" r="1.2" fill="#aa0f2f"/>
<circle cx="115.25" cy="380.5" r="1.2" fill="#aa0f2f"/>
<line x1="108.5" y1="380.8" x2="118" y2="380.8" stroke="#4a4a4a" stroke-width="1.2"/>
<line x1="128.1" y1="397.2" x2="128.1" y2="398.4" stroke="#c83a58" stroke-width="1"/>
<line x1="125.5" y1="397.2" x2="130.7" y2="397.2" stroke="#c83a58" stroke-width="1"/>
<line x1="125.5" y1="398.4" x2="130.7" y2="398.4" stroke="#c83a58" stroke-width="1"/>
<circle cx="126.6" cy="397.6" r="1.2" fill="#aa0f2f"/>
<circle cx="128.1" cy="397.6" r="1.2" fill="#aa0f2f"/>
<circle cx="129.6" cy="397.9" r="1.2" fill="#aa0f2f"/>
<circle cx="131.1" cy="397.8" r="1.2" fill="#aa0f2f"/>
<line x1="123.35" y1="397.8" x2="132.85" y2="397.8" stroke="#4a4a4a" stroke-width="1.2"/>
<circle cx="68.7" cy="361.5" r="0.95" fill="#333"/>
<circle cx="95.55" cy="376.8" r="0.95" fill="#333"/>
<circle cx="98.4" cy="376.8" r="0.95" fill="#333"/>
<circle cx="101.25" cy="376.8" r="0.95" fill="#333"/>
<circle cx="111.83" cy="361.5" r="0.95" fill="#333"/>
<circle cx="114.67" cy="361.5" r="0.95" fill="#333"/>
<circle cx="125.25" cy="376.8" r="0.95" fill="#333"/>
<circle cx="128.1" cy="376.8" r="0.95" fill="#333"/>
<circle cx="130.95" cy="376.8" r="0.95" fill="#333"/>
<line x1="158" y1="327" x2="158" y2="402.3" stroke="#262626" stroke-width="1.3"/>
<line x1="157.4" y1="401.8" x2="264.1" y2="401.8" stroke="#383838" stroke-width="1.5"/>
<line x1="154.7" y1="401.8" x2="158" y2="401.8" stroke="#333" stroke-width="1"/>
<text x="152.4" y="404.15" font-size="6.5" fill="#202020" text-anchor="end" textLength="3.6" lengthAdjust="spacingAndGlyphs">0</text>
<line x1="154.7" y1="377.87" x2="158" y2="377.87" stroke="#333" stroke-width="1"/>
<text x="152.4" y="380.22" font-size="6.5" fill="#202020" text-anchor="end" textLength="7.2" lengthAdjust="spacingAndGlyphs">20</text>
<line x1="154.7" y1="353.93" x2="158" y2="353.93" stroke="#333" stroke-width="1"/>
<text x="152.4" y="356.28" font-size="6.5" fill="#202020" text-anchor="end" textLength="7.2" lengthAdjust="spacingAndGlyphs">40</text>
<line x1="154.7" y1="330" x2="158" y2="330" stroke="#333" stroke-width="1"/>
<text x="152.4" y="332.35" font-size="6.5" fill="#202020" text-anchor="end" textLength="7.2" lengthAdjust="spacingAndGlyphs">60</text>
<text x="212.9" y="329.1" font-size="9" fill="#222" text-anchor="middle" textLength="24.9" lengthAdjust="spacingAndGlyphs">E203K</text>
<line x1="167.6" y1="401.8" x2="167.6" y2="404.4" stroke="#1a1a1a" stroke-width="0.9"/>
<text x="170.6" y="411.2" font-size="6.4" fill="#202020" text-anchor="end" transform="rotate(-45 170.6 411.2)">DMSO</text>
<line x1="182.35" y1="401.8" x2="182.35" y2="404.4" stroke="#1a1a1a" stroke-width="0.9"/>
<text x="185.35" y="411.2" font-size="6.4" fill="#202020" text-anchor="end" transform="rotate(-45 185.35 411.2)">1µM idela</text>
<line x1="197.1" y1="401.8" x2="197.1" y2="404.4" stroke="#1a1a1a" stroke-width="0.9"/>
<text x="200.1" y="411.2" font-size="6.4" fill="#202020" text-anchor="end" transform="rotate(-45 200.1 411.2)">10µM idela</text>
<line x1="211.85" y1="401.8" x2="211.85" y2="404.4" stroke="#1a1a1a" stroke-width="0.9"/>
<text x="214.85" y="411.2" font-size="6.4" fill="#202020" text-anchor="end" transform="rotate(-45 214.85 411.2)">1µM CI-1040</text>
<line x1="226.6" y1="401.8" x2="226.6" y2="404.4" stroke="#1a1a1a" stroke-width="0.9"/>
<text x="229.6" y="411.2" font-size="6.4" fill="#202020" text-anchor="end" transform="rotate(-45 229.6 411.2)">10µM CI-1040</text>
<line x1="241.35" y1="401.8" x2="241.35" y2="404.4" stroke="#1a1a1a" stroke-width="0.9"/>
<text x="244.35" y="411.2" font-size="6.4" fill="#202020" text-anchor="end" transform="rotate(-45 244.35 411.2)">1µM idela + 1µM CI-1040</text>
<line x1="256.1" y1="401.8" x2="256.1" y2="404.4" stroke="#1a1a1a" stroke-width="0.9"/>
<text x="259.1" y="411.2" font-size="6.4" fill="#202020" text-anchor="end" transform="rotate(-45 259.1 411.2)">10µM idela + 10µM CI-1040</text>
<line x1="167.6" y1="351.7" x2="167.6" y2="363.4" stroke="#4262a2" stroke-width="1"/>
<line x1="165" y1="351.7" x2="170.2" y2="351.7" stroke="#4262a2" stroke-width="1"/>
<line x1="165" y1="363.4" x2="170.2" y2="363.4" stroke="#4262a2" stroke-width="1"/>
<circle cx="167.6" cy="346.6" r="1.2" fill="#163a7e"/>
<circle cx="165.8" cy="353.7" r="1.2" fill="#163a7e"/>
<circle cx="169.4" cy="356.3" r="1.2" fill="#163a7e"/>
<circle cx="167.6" cy="373.9" r="1.2" fill="#163a7e"/>
<line x1="162.85" y1="357.3" x2="172.35" y2="357.3" stroke="#4a4a4a" stroke-width="1.2"/>
<line x1="182.35" y1="345.2" x2="182.35" y2="358.2" stroke="#4262a2" stroke-width="1"/>
<line x1="179.75" y1="345.2" x2="184.95" y2="345.2" stroke="#4262a2" stroke-width="1"/>
<line x1="179.75" y1="358.2" x2="184.95" y2="358.2" stroke="#4262a2" stroke-width="1"/>
<circle cx="182.35" cy="341.2" r="1.2" fill="#163a7e"/>
<circle cx="182.35" cy="345.2" r="1.2" fill="#163a7e"/>
<circle cx="179.85" cy="361.8" r="1.2" fill="#163a7e"/>
<circle cx="184.85" cy="361.8" r="1.2" fill="#163a7e"/>
<line x1="177.6" y1="352.3" x2="187.1" y2="352.3" stroke="#4a4a4a" stroke-width="1.2"/>
<line x1="197.1" y1="364.8" x2="197.1" y2="372.1" stroke="#4262a2" stroke-width="1"/>
<line x1="194.5" y1="364.8" x2="199.7" y2="364.8" stroke="#4262a2" stroke-width="1"/>
<line x1="194.5" y1="372.1" x2="199.7" y2="372.1" stroke="#4262a2" stroke-width="1"/>
<circle cx="197.1" cy="360.2" r="1.2" fill="#163a7e"/>
<circle cx="197.1" cy="369.8" r="1.2" fill="#163a7e"/>
<circle cx="197.1" cy="377.9" r="1.2" fill="#163a7e"/>
<line x1="192.35" y1="368.7" x2="201.85" y2="368.7" stroke="#4a4a4a" stroke-width="1.2"/>
<line x1="211.85" y1="343.6" x2="211.85" y2="359.8" stroke="#4262a2" stroke-width="1"/>
<line x1="209.25" y1="343.6" x2="214.45" y2="343.6" stroke="#4262a2" stroke-width="1"/>
<line x1="209.25" y1="359.8" x2="214.45" y2="359.8" stroke="#4262a2" stroke-width="1"/>
<circle cx="211.85" cy="332.7" r="1.2" fill="#163a7e"/>
<circle cx="211.85" cy="346.8" r="1.2" fill="#163a7e"/>
<circle cx="211.85" cy="356.3" r="1.2" fill="#163a7e"/>
<circle cx="211.85" cy="371.4" r="1.2" fill="#163a7e"/>
<line x1="207.1" y1="351.5" x2="216.6" y2="351.5" stroke="#4a4a4a" stroke-width="1.2"/>
<line x1="226.6" y1="395.5" x2="226.6" y2="396.6" stroke="#4262a2" stroke-width="1"/>
<line x1="224" y1="395.5" x2="229.2" y2="395.5" stroke="#4262a2" stroke-width="1"/>
<line x1="224" y1="396.6" x2="229.2" y2="396.6" stroke="#4262a2" stroke-width="1"/>
<circle cx="224.6" cy="396.2" r="1.2" fill="#163a7e"/>
<circle cx="226.6" cy="395.8" r="1.2" fill="#163a7e"/>
<circle cx="228.6" cy="396.1" r="1.2" fill="#163a7e"/>
<circle cx="230.1" cy="396.2" r="1.2" fill="#163a7e"/>
<line x1="221.85" y1="396.1" x2="231.35" y2="396.1" stroke="#4a4a4a" stroke-width="1.2"/>
<line x1="241.35" y1="368.8" x2="241.35" y2="373.6" stroke="#4262a2" stroke-width="1"/>
<line x1="238.75" y1="368.8" x2="243.95" y2="368.8" stroke="#4262a2" stroke-width="1"/>
<line x1="238.75" y1="373.6" x2="243.95" y2="373.6" stroke="#4262a2" stroke-width="1"/>
<circle cx="238.45" cy="366.9" r="1.2" fill="#163a7e"/>
<circle cx="244.25" cy="366.9" r="1.2" fill="#163a7e"/>
<circle cx="241.35" cy="376.4" r="1.2" fill="#163a7e"/>
<circle cx="241.35" cy="371" r="1.2" fill="#163a7e"/>
<line x1="236.6" y1="371" x2="246.1" y2="371" stroke="#4a4a4a" stroke-width="1.2"/>
<line x1="256.1" y1="395.7" x2="256.1" y2="396.7" stroke="#4262a2" stroke-width="1"/>
<line x1="253.5" y1="395.7" x2="258.7" y2="395.7" stroke="#4262a2" stroke-width="1"/>
<line x1="253.5" y1="396.7" x2="258.7" y2="396.7" stroke="#4262a2" stroke-width="1"/>
<circle cx="254.1" cy="396.3" r="1.2" fill="#163a7e"/>
<circle cx="256.1" cy="395.9" r="1.2" fill="#163a7e"/>
<circle cx="258.1" cy="396.2" r="1.2" fill="#163a7e"/>
<circle cx="259.6" cy="396.3" r="1.2" fill="#163a7e"/>
<line x1="251.35" y1="396.2" x2="260.85" y2="396.2" stroke="#4a4a4a" stroke-width="1.2"/>
<circle cx="197.1" cy="353.1" r="0.95" fill="#333"/>
<circle cx="223.75" cy="378.2" r="0.95" fill="#333"/>
<circle cx="226.6" cy="378.2" r="0.95" fill="#333"/>
<circle cx="229.45" cy="378.2" r="0.95" fill="#333"/>
<circle cx="241.35" cy="359.1" r="0.95" fill="#333"/>
<circle cx="253.25" cy="378.2" r="0.95" fill="#333"/>
<circle cx="256.1" cy="378.2" r="0.95" fill="#333"/>
<circle cx="258.95" cy="378.2" r="0.95" fill="#333"/>
<line x1="284.3" y1="327" x2="284.3" y2="402.3" stroke="#262626" stroke-width="1.3"/>
<line x1="283.7" y1="401.8" x2="391.2" y2="401.8" stroke="#383838" stroke-width="1.5"/>
<line x1="281" y1="401.8" x2="284.3" y2="401.8" stroke="#333" stroke-width="1"/>
<text x="278.7" y="404.15" font-size="6.5" fill="#202020" text-anchor="end" textLength="3.6" lengthAdjust="spacingAndGlyphs">0</text>
<line x1="281" y1="377.87" x2="284.3" y2="377.87" stroke="#333" stroke-width="1"/>
<text x="278.7" y="380.22" font-size="6.5" fill="#202020" text-anchor="end" textLength="7.2" lengthAdjust="spacingAndGlyphs">20</text>
<line x1="281" y1="353.93" x2="284.3" y2="353.93" stroke="#333" stroke-width="1"/>
<text x="278.7" y="356.28" font-size="6.5" fill="#202020" text-anchor="end" textLength="7.2" lengthAdjust="spacingAndGlyphs">40</text>
<line x1="281" y1="330" x2="284.3" y2="330" stroke="#333" stroke-width="1"/>
<text x="278.7" y="332.35" font-size="6.5" fill="#202020" text-anchor="end" textLength="7.2" lengthAdjust="spacingAndGlyphs">60</text>
<text x="337.6" y="329.1" font-size="9" fill="#222" text-anchor="middle" textLength="18.6" lengthAdjust="spacingAndGlyphs">F53L</text>
<line x1="294.1" y1="401.8" x2="294.1" y2="404.4" stroke="#1a1a1a" stroke-width="0.9"/>
<text x="297.1" y="411.2" font-size="6.4" fill="#202020" text-anchor="end" transform="rotate(-45 297.1 411.2)">DMSO</text>
<line x1="308.97" y1="401.8" x2="308.97" y2="404.4" stroke="#1a1a1a" stroke-width="0.9"/>
<text x="311.97" y="411.2" font-size="6.4" fill="#202020" text-anchor="end" transform="rotate(-45 311.97 411.2)">1µM idela</text>
<line x1="323.84" y1="401.8" x2="323.84" y2="404.4" stroke="#1a1a1a" stroke-width="0.9"/>
<text x="326.84" y="411.2" font-size="6.4" fill="#202020" text-anchor="end" transform="rotate(-45 326.84 411.2)">10µM idela</text>
<line x1="338.71" y1="401.8" x2="338.71" y2="404.4" stroke="#1a1a1a" stroke-width="0.9"/>
<text x="341.71" y="411.2" font-size="6.4" fill="#202020" text-anchor="end" transform="rotate(-45 341.71 411.2)">1µM CI-1040</text>
<line x1="353.58" y1="401.8" x2="353.58" y2="404.4" stroke="#1a1a1a" stroke-width="0.9"/>
<text x="356.58" y="411.2" font-size="6.4" fill="#202020" text-anchor="end" transform="rotate(-45 356.58 411.2)">10µM CI-1040</text>
<line x1="368.45" y1="401.8" x2="368.45" y2="404.4" stroke="#1a1a1a" stroke-width="0.9"/>
<text x="371.45" y="411.2" font-size="6.4" fill="#202020" text-anchor="end" transform="rotate(-45 371.45 411.2)">1µM idela + 1µM CI-1040</text>
<line x1="383.32" y1="401.8" x2="383.32" y2="404.4" stroke="#1a1a1a" stroke-width="0.9"/>
<text x="386.32" y="411.2" font-size="6.4" fill="#202020" text-anchor="end" transform="rotate(-45 386.32 411.2)">10µM idela + 10µM CI-1040</text>
<line x1="294.1" y1="356.6" x2="294.1" y2="363.4" stroke="#70bc50" stroke-width="1"/>
<line x1="291.5" y1="356.6" x2="296.7" y2="356.6" stroke="#70bc50" stroke-width="1"/>
<line x1="291.5" y1="363.4" x2="296.7" y2="363.4" stroke="#70bc50" stroke-width="1"/>
<circle cx="291.7" cy="353.7" r="1.2" fill="#46a426"/>
<circle cx="296.1" cy="352.1" r="1.2" fill="#46a426"/>
<circle cx="294.1" cy="363.2" r="1.2" fill="#46a426"/>
<circle cx="294.1" cy="371.7" r="1.2" fill="#46a426"/>
<line x1="289.35" y1="360.2" x2="298.85" y2="360.2" stroke="#4a4a4a" stroke-width="1.2"/>
<line x1="308.97" y1="356.4" x2="308.97" y2="363" stroke="#70bc50" stroke-width="1"/>
<line x1="306.37" y1="356.4" x2="311.57" y2="356.4" stroke="#70bc50" stroke-width="1"/>
<line x1="306.37" y1="363" x2="311.57" y2="363" stroke="#70bc50" stroke-width="1"/>
<circle cx="308.97" cy="352.5" r="1.2" fill="#46a426"/>
<circle cx="308.97" cy="356.2" r="1.2" fill="#46a426"/>
<circle cx="308.97" cy="368.7" r="1.2" fill="#46a426"/>
<line x1="304.22" y1="359.8" x2="313.72" y2="359.8" stroke="#4a4a4a" stroke-width="1.2"/>
<line x1="323.84" y1="366" x2="323.84" y2="369.8" stroke="#70bc50" stroke-width="1"/>
<line x1="321.24" y1="366" x2="326.44" y2="366" stroke="#70bc50" stroke-width="1"/>
<line x1="321.24" y1="369.8" x2="326.44" y2="369.8" stroke="#70bc50" stroke-width="1"/>
<circle cx="323.84" cy="362.2" r="1.2" fill="#46a426"/>
<circle cx="321.84" cy="367.3" r="1.2" fill="#46a426"/>
<circle cx="325.84" cy="368.5" r="1.2" fill="#46a426"/>
<circle cx="323.84" cy="373.3" r="1.2" fill="#46a426"/>
<line x1="319.09" y1="367.9" x2="328.59" y2="367.9" stroke="#4a4a4a" stroke-width="1.2"/>
<line x1="338.71" y1="358.6" x2="338.71" y2="363.4" stroke="#70bc50" stroke-width="1"/>
<line x1="336.11" y1="358.6" x2="341.31" y2="358.6" stroke="#70bc50" stroke-width="1"/>
<line x1="336.11" y1="363.4" x2="341.31" y2="363.4" stroke="#70bc50" stroke-width="1"/>
<circle cx="338.71" cy="354.5" r="1.2" fill="#46a426"/>
<circle cx="337.21" cy="359.2" r="1.2" fill="#46a426"/>
<circle cx="338.71" cy="369.9" r="1.2" fill="#46a426"/>
<line x1="333.96" y1="360.8" x2="343.46" y2="360.8" stroke="#4a4a4a" stroke-width="1.2"/>
<line x1="353.58" y1="394.8" x2="353.58" y2="396.2" stroke="#70bc50" stroke-width="1"/>
<line x1="350.98" y1="394.8" x2="356.18" y2="394.8" stroke="#70bc50" stroke-width="1"/>
<line x1="350.98" y1="396.2" x2="356.18" y2="396.2" stroke="#70bc50" stroke-width="1"/>
<circle cx="351.58" cy="395.3" r="1.2" fill="#46a426"/>
<circle cx="353.58" cy="396.2" r="1.2" fill="#46a426"/>
<circle cx="355.58" cy="394.6" r="1.2" fill="#46a426"/>
<circle cx="352.58" cy="396.5" r="1.2" fill="#46a426"/>
<circle cx="355.08" cy="396.3" r="1.2" fill="#46a426"/>
<line x1="348.83" y1="395.5" x2="358.33" y2="395.5" stroke="#4a4a4a" stroke-width="1.2"/>
<line x1="368.45" y1="371.2" x2="368.45" y2="376.5" stroke="#70bc50" stroke-width="1"/>
<line x1="365.85" y1="371.2" x2="371.05" y2="371.2" stroke="#70bc50" stroke-width="1"/>
<line x1="365.85" y1="376.5" x2="371.05" y2="376.5" stroke="#70bc50" stroke-width="1"/>
<circle cx="368.45" cy="366.7" r="1.2" fill="#46a426"/>
<circle cx="366.95" cy="371.3" r="1.2" fill="#46a426"/>
<circle cx="368.45" cy="380.8" r="1.2" fill="#46a426"/>
<line x1="363.7" y1="373.9" x2="373.2" y2="373.9" stroke="#4a4a4a" stroke-width="1.2"/>
<line x1="383.32" y1="395.3" x2="383.32" y2="396.8" stroke="#70bc50" stroke-width="1"/>
<line x1="380.72" y1="395.3" x2="385.92" y2="395.3" stroke="#70bc50" stroke-width="1"/>
<line x1="380.72" y1="396.8" x2="385.92" y2="396.8" stroke="#70bc50" stroke-width="1"/>
<circle cx="381.32" cy="395.3" r="1.2" fill="#46a426"/>
<circle cx="383.32" cy="396.8" r="1.2" fill="#46a426"/>
<circle cx="385.32" cy="395.1" r="1.2" fill="#46a426"/>
<circle cx="381.82" cy="397" r="1.2" fill="#46a426"/>
<circle cx="384.82" cy="397" r="1.2" fill="#46a426"/>
<line x1="378.57" y1="396.1" x2="388.07" y2="396.1" stroke="#4a4a4a" stroke-width="1.2"/>
<text x="315.74" y="354.5" font-size="5.6" fill="#555"><tspan font-style="italic">P</tspan> = .14</text>
<circle cx="350.73" cy="370.3" r="0.95" fill="#333"/>
<circle cx="353.58" cy="370.3" r="0.95" fill="#333"/>
<circle cx="356.43" cy="370.3" r="0.95" fill="#333"/>
<circle cx="367.03" cy="357.2" r="0.95" fill="#333"/>
<circle cx="369.88" cy="357.2" r="0.95" fill="#333"/>
<circle cx="380.47" cy="370.3" r="0.95" fill="#333"/>
<circle cx="383.32" cy="370.3" r="0.95" fill="#333"/>
<circle cx="386.17" cy="370.3" r="0.95" fill="#333"/>
<line x1="409.2" y1="327" x2="409.2" y2="402.3" stroke="#262626" stroke-width="1.3"/>
<line x1="408.6" y1="401.8" x2="515.5" y2="401.8" stroke="#383838" stroke-width="1.5"/>
<line x1="405.9" y1="401.8" x2="409.2" y2="401.8" stroke="#333" stroke-width="1"/>
<text x="403.6" y="404.15" font-size="6.5" fill="#202020" text-anchor="end" textLength="3.6" lengthAdjust="spacingAndGlyphs">0</text>
<line x1="405.9" y1="377.87" x2="409.2" y2="377.87" stroke="#333" stroke-width="1"/>
<text x="403.6" y="380.22" font-size="6.5" fill="#202020" text-anchor="end" textLength="7.2" lengthAdjust="spacingAndGlyphs">20</text>
<line x1="405.9" y1="353.93" x2="409.2" y2="353.93" stroke="#333" stroke-width="1"/>
<text x="403.6" y="356.28" font-size="6.5" fill="#202020" text-anchor="end" textLength="7.2" lengthAdjust="spacingAndGlyphs">40</text>
<line x1="405.9" y1="330" x2="409.2" y2="330" stroke="#333" stroke-width="1"/>
<text x="403.6" y="332.35" font-size="6.5" fill="#202020" text-anchor="end" textLength="7.2" lengthAdjust="spacingAndGlyphs">60</text>
<text x="462.5" y="329.1" font-size="9" fill="#222" text-anchor="middle" textLength="21.7" lengthAdjust="spacingAndGlyphs">Q56P</text>
<line x1="418.7" y1="401.8" x2="418.7" y2="404.4" stroke="#1a1a1a" stroke-width="0.9"/>
<text x="421.7" y="411.2" font-size="6.4" fill="#202020" text-anchor="end" transform="rotate(-45 421.7 411.2)">DMSO</text>
<line x1="433.63" y1="401.8" x2="433.63" y2="404.4" stroke="#1a1a1a" stroke-width="0.9"/>
<text x="436.63" y="411.2" font-size="6.4" fill="#202020" text-anchor="end" transform="rotate(-45 436.63 411.2)">1µM idela</text>
<line x1="448.56" y1="401.8" x2="448.56" y2="404.4" stroke="#1a1a1a" stroke-width="0.9"/>
<text x="451.56" y="411.2" font-size="6.4" fill="#202020" text-anchor="end" transform="rotate(-45 451.56 411.2)">10µM idela</text>
<line x1="463.49" y1="401.8" x2="463.49" y2="404.4" stroke="#1a1a1a" stroke-width="0.9"/>
<text x="466.49" y="411.2" font-size="6.4" fill="#202020" text-anchor="end" transform="rotate(-45 466.49 411.2)">1µM CI-1040</text>
<line x1="478.42" y1="401.8" x2="478.42" y2="404.4" stroke="#1a1a1a" stroke-width="0.9"/>
<text x="481.42" y="411.2" font-size="6.4" fill="#202020" text-anchor="end" transform="rotate(-45 481.42 411.2)">10µM CI-1040</text>
<line x1="493.35" y1="401.8" x2="493.35" y2="404.4" stroke="#1a1a1a" stroke-width="0.9"/>
<text x="496.35" y="411.2" font-size="6.4" fill="#202020" text-anchor="end" transform="rotate(-45 496.35 411.2)">1µM idela + 1µM CI-1040</text>
<line x1="508.28" y1="401.8" x2="508.28" y2="404.4" stroke="#1a1a1a" stroke-width="0.9"/>
<text x="511.28" y="411.2" font-size="6.4" fill="#202020" text-anchor="end" transform="rotate(-45 511.28 411.2)">10µM idela + 10µM CI-1040</text>
<line x1="418.7" y1="360.2" x2="418.7" y2="366" stroke="#7a4a9a" stroke-width="1"/>
<line x1="416.1" y1="360.2" x2="421.3" y2="360.2" stroke="#7a4a9a" stroke-width="1"/>
<line x1="416.1" y1="366" x2="421.3" y2="366" stroke="#7a4a9a" stroke-width="1"/>
<circle cx="418.7" cy="354.9" r="1.2" fill="#420c62"/>
<circle cx="418.7" cy="359.3" r="1.2" fill="#420c62"/>
<circle cx="416.9" cy="369.4" r="1.2" fill="#420c62"/>
<circle cx="420.9" cy="367.4" r="1.2" fill="#420c62"/>
<line x1="413.95" y1="363" x2="423.45" y2="363" stroke="#4a4a4a" stroke-width="1.2"/>
<line x1="433.63" y1="342.2" x2="433.63" y2="354.9" stroke="#7a4a9a" stroke-width="1"/>
<line x1="431.03" y1="342.2" x2="436.23" y2="342.2" stroke="#7a4a9a" stroke-width="1"/>
<line x1="431.03" y1="354.9" x2="436.23" y2="354.9" stroke="#7a4a9a" stroke-width="1"/>
<circle cx="433.63" cy="332.7" r="1.2" fill="#420c62"/>
<circle cx="433.63" cy="352.3" r="1.2" fill="#420c62"/>
<circle cx="433.63" cy="362.4" r="1.2" fill="#420c62"/>
<line x1="428.88" y1="348.6" x2="438.38" y2="348.6" stroke="#4a4a4a" stroke-width="1.2"/>
<line x1="448.56" y1="357.6" x2="448.56" y2="360.2" stroke="#7a4a9a" stroke-width="1"/>
<line x1="445.96" y1="357.6" x2="451.16" y2="357.6" stroke="#7a4a9a" stroke-width="1"/>
<line x1="445.96" y1="360.2" x2="451.16" y2="360.2" stroke="#7a4a9a" stroke-width="1"/>
<circle cx="446.06" cy="357.3" r="1.2" fill="#420c62"/>
<circle cx="451.06" cy="358.3" r="1.2" fill="#420c62"/>
<circle cx="448.56" cy="362.4" r="1.2" fill="#420c62"/>
<line x1="443.81" y1="358.9" x2="453.31" y2="358.9" stroke="#4a4a4a" stroke-width="1.2"/>
<line x1="463.49" y1="355.6" x2="463.49" y2="359.8" stroke="#7a4a9a" stroke-width="1"/>
<line x1="460.89" y1="355.6" x2="466.09" y2="355.6" stroke="#7a4a9a" stroke-width="1"/>
<line x1="460.89" y1="359.8" x2="466.09" y2="359.8" stroke="#7a4a9a" stroke-width="1"/>
<circle cx="460.99" cy="355.3" r="1.2" fill="#420c62"/>
<circle cx="465.99" cy="356.9" r="1.2" fill="#420c62"/>
<circle cx="463.49" cy="364.4" r="1.2" fill="#420c62"/>
<line x1="458.74" y1="357.7" x2="468.24" y2="357.7" stroke="#4a4a4a" stroke-width="1.2"/>
<line x1="478.42" y1="393.7" x2="478.42" y2="395.7" stroke="#7a4a9a" stroke-width="1"/>
<line x1="475.82" y1="393.7" x2="481.02" y2="393.7" stroke="#7a4a9a" stroke-width="1"/>
<line x1="475.82" y1="395.7" x2="481.02" y2="395.7" stroke="#7a4a9a" stroke-width="1"/>
<circle cx="475.92" cy="393.9" r="1.2" fill="#420c62"/>
<circle cx="480.92" cy="393.9" r="1.2" fill="#420c62"/>
<circle cx="478.42" cy="396.7" r="1.2" fill="#420c62"/>
<line x1="473.67" y1="394.7" x2="483.17" y2="394.7" stroke="#4a4a4a" stroke-width="1.2"/>
<line x1="493.35" y1="366.8" x2="493.35" y2="368.8" stroke="#7a4a9a" stroke-width="1"/>
<line x1="490.75" y1="366.8" x2="495.95" y2="366.8" stroke="#7a4a9a" stroke-width="1"/>
<line x1="490.75" y1="368.8" x2="495.95" y2="368.8" stroke="#7a4a9a" stroke-width="1"/>
<circle cx="493.35" cy="363" r="1.2" fill="#420c62"/>
<circle cx="490.85" cy="369.8" r="1.2" fill="#420c62"/>
<circle cx="495.85" cy="369" r="1.2" fill="#420c62"/>
<line x1="488.6" y1="367.8" x2="498.1" y2="367.8" stroke="#4a4a4a" stroke-width="1.2"/>
<line x1="508.28" y1="395" x2="508.28" y2="397.2" stroke="#7a4a9a" stroke-width="1"/>
<line x1="505.68" y1="395" x2="510.88" y2="395" stroke="#7a4a9a" stroke-width="1"/>
<line x1="505.68" y1="397.2" x2="510.88" y2="397.2" stroke="#7a4a9a" stroke-width="1"/>
<circle cx="505.78" cy="394.8" r="1.2" fill="#420c62"/>
<circle cx="510.78" cy="394.8" r="1.2" fill="#420c62"/>
<circle cx="508.28" cy="397.9" r="1.2" fill="#420c62"/>
<circle cx="505.78" cy="397.5" r="1.2" fill="#420c62"/>
<circle cx="510.78" cy="397.5" r="1.2" fill="#420c62"/>
<line x1="503.53" y1="396.1" x2="513.03" y2="396.1" stroke="#4a4a4a" stroke-width="1.2"/>
<text x="440.23" y="350.6" font-size="5.6" fill="#555"><tspan font-style="italic">P</tspan> = .43</text>
<circle cx="475.57" cy="383.6" r="0.95" fill="#333"/>
<circle cx="478.42" cy="383.6" r="0.95" fill="#333"/>
<circle cx="481.27" cy="383.6" r="0.95" fill="#333"/>
<circle cx="505.43" cy="383.6" r="0.95" fill="#333"/>
<circle cx="508.28" cy="383.6" r="0.95" fill="#333"/>
<circle cx="511.13" cy="383.6" r="0.95" fill="#333"/>
<text x="3.9" y="487.3" font-size="11.3" fill="#111" font-weight="bold">D</text>
<text x="11.5" y="525.6" font-size="8.8" fill="#202020" text-anchor="middle" transform="rotate(-90 11.5 525.6)" textLength="43.6" lengthAdjust="spacingAndGlyphs">% divided cells</text>
<line x1="33" y1="492" x2="33" y2="560.3" stroke="#262626" stroke-width="1.3"/>
<line x1="32.4" y1="559.8" x2="139.5" y2="559.8" stroke="#383838" stroke-width="1.5"/>
<line x1="29.7" y1="559.8" x2="33" y2="559.8" stroke="#333" stroke-width="1"/>
<text x="27.1" y="562.15" font-size="6.5" fill="#202020" text-anchor="end" textLength="3.6" lengthAdjust="spacingAndGlyphs">0</text>
<line x1="29.7" y1="546.8" x2="33" y2="546.8" stroke="#333" stroke-width="1"/>
<text x="27.1" y="549.15" font-size="6.5" fill="#202020" text-anchor="end" textLength="7.2" lengthAdjust="spacingAndGlyphs">20</text>
<line x1="29.7" y1="533.8" x2="33" y2="533.8" stroke="#333" stroke-width="1"/>
<text x="27.1" y="536.15" font-size="6.5" fill="#202020" text-anchor="end" textLength="7.2" lengthAdjust="spacingAndGlyphs">40</text>
<line x1="29.7" y1="520.8" x2="33" y2="520.8" stroke="#333" stroke-width="1"/>
<text x="27.1" y="523.15" font-size="6.5" fill="#202020" text-anchor="end" textLength="7.2" lengthAdjust="spacingAndGlyphs">60</text>
<line x1="29.7" y1="507.8" x2="33" y2="507.8" stroke="#333" stroke-width="1"/>
<text x="27.1" y="510.15" font-size="6.5" fill="#202020" text-anchor="end" textLength="7.2" lengthAdjust="spacingAndGlyphs">80</text>
<line x1="29.7" y1="494.8" x2="33" y2="494.8" stroke="#333" stroke-width="1"/>
<text x="27.1" y="497.15" font-size="6.5" fill="#202020" text-anchor="end" textLength="10.6" lengthAdjust="spacingAndGlyphs">100</text>
<text x="86.25" y="494.5" font-size="9" fill="#222" text-anchor="middle">WT</text>
<line x1="38.6" y1="559.8" x2="38.6" y2="562.4" stroke="#1a1a1a" stroke-width="0.9"/>
<text x="41.1" y="570" font-size="6.3" fill="#202020" text-anchor="end" transform="rotate(-45 41.1 570)">DMSO</text>
<line x1="50.75" y1="559.8" x2="50.75" y2="562.4" stroke="#1a1a1a" stroke-width="0.9"/>
<text x="53.25" y="570" font-size="6.3" fill="#202020" text-anchor="end" transform="rotate(-45 53.25 570)">Idela 5µM</text>
<line x1="62.9" y1="559.8" x2="62.9" y2="562.4" stroke="#1a1a1a" stroke-width="0.9"/>
<text x="65.4" y="570" font-size="6.3" fill="#202020" text-anchor="end" transform="rotate(-45 65.4 570)">Idela 10µM</text>
<line x1="75.05" y1="559.8" x2="75.05" y2="562.4" stroke="#1a1a1a" stroke-width="0.9"/>
<text x="77.55" y="570" font-size="6.3" fill="#202020" text-anchor="end" transform="rotate(-45 77.55 570)">CI-1040 5µM</text>
<line x1="87.2" y1="559.8" x2="87.2" y2="562.4" stroke="#1a1a1a" stroke-width="0.9"/>
<text x="89.7" y="570" font-size="6.3" fill="#202020" text-anchor="end" transform="rotate(-45 89.7 570)">Trametinib 5µM</text>
<line x1="99.35" y1="559.8" x2="99.35" y2="562.4" stroke="#1a1a1a" stroke-width="0.9"/>
<text x="101.85" y="570" font-size="6.3" fill="#202020" text-anchor="end" transform="rotate(-45 101.85 570)">Idela 5µM + CI-1040 5µM</text>
<line x1="111.5" y1="559.8" x2="111.5" y2="562.4" stroke="#1a1a1a" stroke-width="0.9"/>
<text x="114" y="570" font-size="6.3" fill="#202020" text-anchor="end" transform="rotate(-45 114 570)">Idela 5µM + Trametinib 5µM</text>
<line x1="123.65" y1="559.8" x2="123.65" y2="562.4" stroke="#1a1a1a" stroke-width="0.9"/>
<text x="126.15" y="570" font-size="6.3" fill="#202020" text-anchor="end" transform="rotate(-45 126.15 570)">Idela 10µM + CI-1040 5µM</text>
<line x1="135.8" y1="559.8" x2="135.8" y2="562.4" stroke="#1a1a1a" stroke-width="0.9"/>
<text x="138.3" y="570" font-size="6.3" fill="#202020" text-anchor="end" transform="rotate(-45 138.3 570)">Idela 10µM + Trametinib 5µM</text>
<line x1="38.6" y1="499.5" x2="38.6" y2="504.5" stroke="#c83a58" stroke-width="1"/>
<line x1="36.2" y1="499.5" x2="41" y2="499.5" stroke="#c83a58" stroke-width="1"/>
<line x1="36.2" y1="504.5" x2="41" y2="504.5" stroke="#c83a58" stroke-width="1"/>
<circle cx="38.6" cy="498.1" r="1.6" fill="#ae0a26"/>
<circle cx="38.6" cy="501.5" r="1.6" fill="#ae0a26"/>
<circle cx="38.6" cy="505.1" r="1.6" fill="#ae0a26"/>
<line x1="35.1" y1="501.9" x2="42.1" y2="501.9" stroke="#3a3a3a" stroke-width="1.1"/>
<line x1="50.75" y1="512.6" x2="50.75" y2="514.6" stroke="#c83a58" stroke-width="1"/>
<line x1="48.35" y1="512.6" x2="53.15" y2="512.6" stroke="#c83a58" stroke-width="1"/>
<line x1="48.35" y1="514.6" x2="53.15" y2="514.6" stroke="#c83a58" stroke-width="1"/>
<circle cx="50.75" cy="511.4" r="1.6" fill="#ae0a26"/>
<circle cx="49.05" cy="513.6" r="1.6" fill="#ae0a26"/>
<circle cx="52.45" cy="513.6" r="1.6" fill="#ae0a26"/>
<line x1="47.25" y1="513.6" x2="54.25" y2="513.6" stroke="#3a3a3a" stroke-width="1.1"/>
<line x1="62.9" y1="513.4" x2="62.9" y2="515.6" stroke="#c83a58" stroke-width="1"/>
<line x1="60.5" y1="513.4" x2="65.3" y2="513.4" stroke="#c83a58" stroke-width="1"/>
<line x1="60.5" y1="515.6" x2="65.3" y2="515.6" stroke="#c83a58" stroke-width="1"/>
<circle cx="62.9" cy="512" r="1.6" fill="#ae0a26"/>
<circle cx="61.2" cy="515" r="1.6" fill="#ae0a26"/>
<circle cx="64.6" cy="515" r="1.6" fill="#ae0a26"/>
<line x1="59.4" y1="514.6" x2="66.4" y2="514.6" stroke="#3a3a3a" stroke-width="1.1"/>
<line x1="75.05" y1="513.6" x2="75.05" y2="515.4" stroke="#c83a58" stroke-width="1"/>
<line x1="72.65" y1="513.6" x2="77.45" y2="513.6" stroke="#c83a58" stroke-width="1"/>
<line x1="72.65" y1="515.4" x2="77.45" y2="515.4" stroke="#c83a58" stroke-width="1"/>
<circle cx="75.05" cy="513.4" r="1.6" fill="#ae0a26"/>
<circle cx="73.35" cy="515" r="1.6" fill="#ae0a26"/>
<circle cx="76.75" cy="514.6" r="1.6" fill="#ae0a26"/>
<line x1="71.55" y1="514.6" x2="78.55" y2="514.6" stroke="#3a3a3a" stroke-width="1.1"/>
<line x1="87.2" y1="505.8" x2="87.2" y2="508.6" stroke="#c83a58" stroke-width="1"/>
<line x1="84.8" y1="505.8" x2="89.6" y2="505.8" stroke="#c83a58" stroke-width="1"/>
<line x1="84.8" y1="508.6" x2="89.6" y2="508.6" stroke="#c83a58" stroke-width="1"/>
<circle cx="85.7" cy="505.7" r="1.6" fill="#ae0a26"/>
<circle cx="88.7" cy="505.7" r="1.6" fill="#ae0a26"/>
<circle cx="87.2" cy="507.8" r="1.6" fill="#ae0a26"/>
<circle cx="87.2" cy="511.4" r="1.6" fill="#ae0a26"/>
<line x1="83.7" y1="507.2" x2="90.7" y2="507.2" stroke="#3a3a3a" stroke-width="1.1"/>
<line x1="99.35" y1="520.6" x2="99.35" y2="525" stroke="#c83a58" stroke-width="1"/>
<line x1="96.95" y1="520.6" x2="101.75" y2="520.6" stroke="#c83a58" stroke-width="1"/>
<line x1="96.95" y1="525" x2="101.75" y2="525" stroke="#c83a58" stroke-width="1"/>
<circle cx="99.35" cy="519.3" r="1.6" fill="#ae0a26"/>
<circle cx="99.35" cy="525.2" r="1.6" fill="#ae0a26"/>
<circle cx="99.35" cy="528.4" r="1.6" fill="#ae0a26"/>
<circle cx="98.15" cy="521.6" r="1.6" fill="#ae0a26"/>
<circle cx="100.55" cy="521.6" r="1.6" fill="#ae0a26"/>
<line x1="95.85" y1="522.7" x2="102.85" y2="522.7" stroke="#3a3a3a" stroke-width="1.1"/>
<line x1="111.5" y1="521.6" x2="111.5" y2="525.4" stroke="#c83a58" stroke-width="1"/>
<line x1="109.1" y1="521.6" x2="113.9" y2="521.6" stroke="#c83a58" stroke-width="1"/>
<line x1="109.1" y1="525.4" x2="113.9" y2="525.4" stroke="#c83a58" stroke-width="1"/>
<circle cx="111.5" cy="519.8" r="1.6" fill="#ae0a26"/>
<circle cx="111.5" cy="523.8" r="1.6" fill="#ae0a26"/>
<circle cx="111.5" cy="527" r="1.6" fill="#ae0a26"/>
<circle cx="110.3" cy="522.4" r="1.6" fill="#ae0a26"/>
<circle cx="112.7" cy="522.4" r="1.6" fill="#ae0a26"/>
<line x1="108" y1="523.5" x2="115" y2="523.5" stroke="#3a3a3a" stroke-width="1.1"/>
<line x1="123.65" y1="521.6" x2="123.65" y2="525.4" stroke="#c83a58" stroke-width="1"/>
<line x1="121.25" y1="521.6" x2="126.05" y2="521.6" stroke="#c83a58" stroke-width="1"/>
<line x1="121.25" y1="525.4" x2="126.05" y2="525.4" stroke="#c83a58" stroke-width="1"/>
<circle cx="123.65" cy="520" r="1.6" fill="#ae0a26"/>
<circle cx="123.65" cy="524.6" r="1.6" fill="#ae0a26"/>
<circle cx="123.65" cy="528" r="1.6" fill="#ae0a26"/>
<circle cx="122.45" cy="522.4" r="1.6" fill="#ae0a26"/>
<line x1="120.15" y1="523.5" x2="127.15" y2="523.5" stroke="#3a3a3a" stroke-width="1.1"/>
<line x1="135.8" y1="522.4" x2="135.8" y2="525.8" stroke="#c83a58" stroke-width="1"/>
<line x1="133.4" y1="522.4" x2="138.2" y2="522.4" stroke="#c83a58" stroke-width="1"/>
<line x1="133.4" y1="525.8" x2="138.2" y2="525.8" stroke="#c83a58" stroke-width="1"/>
<circle cx="135.8" cy="520.6" r="1.6" fill="#ae0a26"/>
<circle cx="135.8" cy="524.6" r="1.6" fill="#ae0a26"/>
<circle cx="135.8" cy="528.2" r="1.6" fill="#ae0a26"/>
<circle cx="137" cy="522.6" r="1.6" fill="#ae0a26"/>
<line x1="132.3" y1="524.1" x2="139.3" y2="524.1" stroke="#3a3a3a" stroke-width="1.1"/>
<text x="45.95" y="505" font-size="5.6" fill="#555">0.06</text>
<circle cx="62.9" cy="504.5" r="0.95" fill="#333"/>
<circle cx="75.05" cy="506.2" r="0.95" fill="#333"/>
<circle cx="96.5" cy="507.2" r="0.95" fill="#333"/>
<circle cx="99.35" cy="507.2" r="0.95" fill="#333"/>
<circle cx="102.2" cy="507.2" r="0.95" fill="#333"/>
<circle cx="108.65" cy="510.4" r="0.95" fill="#333"/>
<circle cx="111.5" cy="510.4" r="0.95" fill="#333"/>
<circle cx="114.35" cy="510.4" r="0.95" fill="#333"/>
<circle cx="120.8" cy="513.1" r="0.95" fill="#333"/>
<circle cx="123.65" cy="513.1" r="0.95" fill="#333"/>
<circle cx="126.5" cy="513.1" r="0.95" fill="#333"/>
<circle cx="132.95" cy="516.3" r="0.95" fill="#333"/>
<circle cx="135.8" cy="516.3" r="0.95" fill="#333"/>
<circle cx="138.65" cy="516.3" r="0.95" fill="#333"/>
<line x1="158" y1="492" x2="158" y2="560.3" stroke="#262626" stroke-width="1.3"/>
<line x1="157.4" y1="559.8" x2="264.6" y2="559.8" stroke="#383838" stroke-width="1.5"/>
<line x1="154.7" y1="559.8" x2="158" y2="559.8" stroke="#333" stroke-width="1"/>
<text x="152.1" y="562.15" font-size="6.5" fill="#202020" text-anchor="end" textLength="3.6" lengthAdjust="spacingAndGlyphs">0</text>
<line x1="154.7" y1="546.8" x2="158" y2="546.8" stroke="#333" stroke-width="1"/>
<text x="152.1" y="549.15" font-size="6.5" fill="#202020" text-anchor="end" textLength="7.2" lengthAdjust="spacingAndGlyphs">20</text>
<line x1="154.7" y1="533.8" x2="158" y2="533.8" stroke="#333" stroke-width="1"/>
<text x="152.1" y="536.15" font-size="6.5" fill="#202020" text-anchor="end" textLength="7.2" lengthAdjust="spacingAndGlyphs">40</text>
<line x1="154.7" y1="520.8" x2="158" y2="520.8" stroke="#333" stroke-width="1"/>
<text x="152.1" y="523.15" font-size="6.5" fill="#202020" text-anchor="end" textLength="7.2" lengthAdjust="spacingAndGlyphs">60</text>
<line x1="154.7" y1="507.8" x2="158" y2="507.8" stroke="#333" stroke-width="1"/>
<text x="152.1" y="510.15" font-size="6.5" fill="#202020" text-anchor="end" textLength="7.2" lengthAdjust="spacingAndGlyphs">80</text>
<line x1="154.7" y1="494.8" x2="158" y2="494.8" stroke="#333" stroke-width="1"/>
<text x="152.1" y="497.15" font-size="6.5" fill="#202020" text-anchor="end" textLength="10.6" lengthAdjust="spacingAndGlyphs">100</text>
<text x="206.2" y="494.5" font-size="9" fill="#222" text-anchor="middle" textLength="24.9" lengthAdjust="spacingAndGlyphs">E203K</text>
<line x1="163.4" y1="559.8" x2="163.4" y2="562.4" stroke="#1a1a1a" stroke-width="0.9"/>
<text x="165.9" y="570" font-size="6.3" fill="#202020" text-anchor="end" transform="rotate(-45 165.9 570)">DMSO</text>
<line x1="175.52" y1="559.8" x2="175.52" y2="562.4" stroke="#1a1a1a" stroke-width="0.9"/>
<text x="178.02" y="570" font-size="6.3" fill="#202020" text-anchor="end" transform="rotate(-45 178.02 570)">Idela 5µM</text>
<line x1="187.64" y1="559.8" x2="187.64" y2="562.4" stroke="#1a1a1a" stroke-width="0.9"/>
<text x="190.14" y="570" font-size="6.3" fill="#202020" text-anchor="end" transform="rotate(-45 190.14 570)">Idela 10µM</text>
<line x1="199.76" y1="559.8" x2="199.76" y2="562.4" stroke="#1a1a1a" stroke-width="0.9"/>
<text x="202.26" y="570" font-size="6.3" fill="#202020" text-anchor="end" transform="rotate(-45 202.26 570)">CI-1040 5µM</text>
<line x1="211.88" y1="559.8" x2="211.88" y2="562.4" stroke="#1a1a1a" stroke-width="0.9"/>
<text x="214.38" y="570" font-size="6.3" fill="#202020" text-anchor="end" transform="rotate(-45 214.38 570)">Trametinib 5µM</text>
<line x1="224" y1="559.8" x2="224" y2="562.4" stroke="#1a1a1a" stroke-width="0.9"/>
<text x="226.5" y="570" font-size="6.3" fill="#202020" text-anchor="end" transform="rotate(-45 226.5 570)">Idela 5µM + CI-1040 5µM</text>
<line x1="236.12" y1="559.8" x2="236.12" y2="562.4" stroke="#1a1a1a" stroke-width="0.9"/>
<text x="238.62" y="570" font-size="6.3" fill="#202020" text-anchor="end" transform="rotate(-45 238.62 570)">Idela 5µM + Trametinib 5µM</text>
<line x1="248.24" y1="559.8" x2="248.24" y2="562.4" stroke="#1a1a1a" stroke-width="0.9"/>
<text x="250.74" y="570" font-size="6.3" fill="#202020" text-anchor="end" transform="rotate(-45 250.74 570)">Idela 10µM + CI-1040 5µM</text>
<line x1="260.36" y1="559.8" x2="260.36" y2="562.4" stroke="#1a1a1a" stroke-width="0.9"/>
<text x="262.86" y="570" font-size="6.3" fill="#202020" text-anchor="end" transform="rotate(-45 262.86 570)">Idela 10µM + Trametinib 5µM</text>
<line x1="163.4" y1="505.4" x2="163.4" y2="506.6" stroke="#4262a2" stroke-width="1"/>
<line x1="161" y1="505.4" x2="165.8" y2="505.4" stroke="#4262a2" stroke-width="1"/>
<line x1="161" y1="506.6" x2="165.8" y2="506.6" stroke="#4262a2" stroke-width="1"/>
<circle cx="161.6" cy="507.2" r="1.6" fill="#163a7e"/>
<circle cx="163.4" cy="505.1" r="1.6" fill="#163a7e"/>
<circle cx="165.2" cy="506.2" r="1.6" fill="#163a7e"/>
<line x1="159.9" y1="506" x2="166.9" y2="506" stroke="#3a3a3a" stroke-width="1.1"/>
<line x1="175.52" y1="508.4" x2="175.52" y2="513.2" stroke="#4262a2" stroke-width="1"/>
<line x1="173.12" y1="508.4" x2="177.92" y2="508.4" stroke="#4262a2" stroke-width="1"/>
<line x1="173.12" y1="513.2" x2="177.92" y2="513.2" stroke="#4262a2" stroke-width="1"/>
<circle cx="173.92" cy="507.2" r="1.6" fill="#163a7e"/>
<circle cx="177.12" cy="508.7" r="1.6" fill="#163a7e"/>
<circle cx="175.52" cy="517.8" r="1.6" fill="#163a7e"/>
<line x1="172.02" y1="510.8" x2="179.02" y2="510.8" stroke="#3a3a3a" stroke-width="1.1"/>
<line x1="187.64" y1="509.6" x2="187.64" y2="513.2" stroke="#4262a2" stroke-width="1"/>
<line x1="185.24" y1="509.6" x2="190.04" y2="509.6" stroke="#4262a2" stroke-width="1"/>
<line x1="185.24" y1="513.2" x2="190.04" y2="513.2" stroke="#4262a2" stroke-width="1"/>
<circle cx="187.64" cy="507.2" r="1.6" fill="#163a7e"/>
<circle cx="186.04" cy="513.6" r="1.6" fill="#163a7e"/>
<circle cx="189.24" cy="511.4" r="1.6" fill="#163a7e"/>
<line x1="184.14" y1="511.4" x2="191.14" y2="511.4" stroke="#3a3a3a" stroke-width="1.1"/>
<line x1="199.76" y1="513.6" x2="199.76" y2="519.8" stroke="#4262a2" stroke-width="1"/>
<line x1="197.36" y1="513.6" x2="202.16" y2="513.6" stroke="#4262a2" stroke-width="1"/>
<line x1="197.36" y1="519.8" x2="202.16" y2="519.8" stroke="#4262a2" stroke-width="1"/>
<circle cx="199.76" cy="509.3" r="1.6" fill="#163a7e"/>
<circle cx="198.16" cy="519.9" r="1.6" fill="#163a7e"/>
<circle cx="201.36" cy="518.8" r="1.6" fill="#163a7e"/>
<line x1="196.26" y1="516.7" x2="203.26" y2="516.7" stroke="#3a3a3a" stroke-width="1.1"/>
<line x1="211.88" y1="513.4" x2="211.88" y2="518" stroke="#4262a2" stroke-width="1"/>
<line x1="209.48" y1="513.4" x2="214.28" y2="513.4" stroke="#4262a2" stroke-width="1"/>
<line x1="209.48" y1="518" x2="214.28" y2="518" stroke="#4262a2" stroke-width="1"/>
<circle cx="210.28" cy="512.1" r="1.6" fill="#163a7e"/>
<circle cx="213.48" cy="513.6" r="1.6" fill="#163a7e"/>
<circle cx="211.88" cy="522.7" r="1.6" fill="#163a7e"/>
<line x1="208.38" y1="515.7" x2="215.38" y2="515.7" stroke="#3a3a3a" stroke-width="1.1"/>
<line x1="224" y1="523.4" x2="224" y2="531.2" stroke="#4262a2" stroke-width="1"/>
<line x1="221.6" y1="523.4" x2="226.4" y2="523.4" stroke="#4262a2" stroke-width="1"/>
<line x1="221.6" y1="531.2" x2="226.4" y2="531.2" stroke="#4262a2" stroke-width="1"/>
<circle cx="224" cy="521.4" r="1.6" fill="#163a7e"/>
<circle cx="224" cy="524.1" r="1.6" fill="#163a7e"/>
<circle cx="224" cy="535.8" r="1.6" fill="#163a7e"/>
<line x1="220.5" y1="527.3" x2="227.5" y2="527.3" stroke="#3a3a3a" stroke-width="1.1"/>
<line x1="236.12" y1="529.2" x2="236.12" y2="533" stroke="#4262a2" stroke-width="1"/>
<line x1="233.72" y1="529.2" x2="238.52" y2="529.2" stroke="#4262a2" stroke-width="1"/>
<line x1="233.72" y1="533" x2="238.52" y2="533" stroke="#4262a2" stroke-width="1"/>
<circle cx="236.12" cy="526.9" r="1.6" fill="#163a7e"/>
<circle cx="236.12" cy="534.1" r="1.6" fill="#163a7e"/>
<circle cx="236.12" cy="535.3" r="1.6" fill="#163a7e"/>
<line x1="232.62" y1="531.1" x2="239.62" y2="531.1" stroke="#3a3a3a" stroke-width="1.1"/>
<line x1="248.24" y1="529.2" x2="248.24" y2="533" stroke="#4262a2" stroke-width="1"/>
<line x1="245.84" y1="529.2" x2="250.64" y2="529.2" stroke="#4262a2" stroke-width="1"/>
<line x1="245.84" y1="533" x2="250.64" y2="533" stroke="#4262a2" stroke-width="1"/>
<circle cx="248.24" cy="526.9" r="1.6" fill="#163a7e"/>
<circle cx="248.24" cy="534.1" r="1.6" fill="#163a7e"/>
<circle cx="248.24" cy="535.8" r="1.6" fill="#163a7e"/>
<line x1="244.74" y1="531.1" x2="251.74" y2="531.1" stroke="#3a3a3a" stroke-width="1.1"/>
<line x1="260.36" y1="533.6" x2="260.36" y2="538.8" stroke="#4262a2" stroke-width="1"/>
<line x1="257.96" y1="533.6" x2="262.76" y2="533.6" stroke="#4262a2" stroke-width="1"/>
<line x1="257.96" y1="538.8" x2="262.76" y2="538.8" stroke="#4262a2" stroke-width="1"/>
<circle cx="260.36" cy="529.8" r="1.6" fill="#163a7e"/>
<circle cx="258.76" cy="537.9" r="1.6" fill="#163a7e"/>
<circle cx="261.96" cy="540" r="1.6" fill="#163a7e"/>
<line x1="256.86" y1="536.2" x2="263.86" y2="536.2" stroke="#3a3a3a" stroke-width="1.1"/>
<circle cx="221.15" cy="517.2" r="0.95" fill="#333"/>
<circle cx="224" cy="517.2" r="0.95" fill="#333"/>
<circle cx="226.85" cy="517.2" r="0.95" fill="#333"/>
<circle cx="233.27" cy="521.4" r="0.95" fill="#333"/>
<circle cx="236.12" cy="521.4" r="0.95" fill="#333"/>
<circle cx="238.97" cy="521.4" r="0.95" fill="#333"/>
<circle cx="245.39" cy="522" r="0.95" fill="#333"/>
<circle cx="248.24" cy="522" r="0.95" fill="#333"/>
<circle cx="251.09" cy="522" r="0.95" fill="#333"/>
<circle cx="257.51" cy="523.5" r="0.95" fill="#333"/>
<circle cx="260.36" cy="523.5" r="0.95" fill="#333"/>
<circle cx="263.21" cy="523.5" r="0.95" fill="#333"/>
<line x1="283" y1="493.6" x2="283" y2="560.3" stroke="#262626" stroke-width="1.3"/>
<line x1="282.4" y1="559.8" x2="389.6" y2="559.8" stroke="#383838" stroke-width="1.5"/>
<line x1="279.7" y1="559.8" x2="283" y2="559.8" stroke="#333" stroke-width="1"/>
<text x="277.1" y="562.15" font-size="6.5" fill="#202020" text-anchor="end" textLength="3.6" lengthAdjust="spacingAndGlyphs">0</text>
<line x1="279.7" y1="547.12" x2="283" y2="547.12" stroke="#333" stroke-width="1"/>
<text x="277.1" y="549.47" font-size="6.5" fill="#202020" text-anchor="end" textLength="7.2" lengthAdjust="spacingAndGlyphs">20</text>
<line x1="279.7" y1="534.44" x2="283" y2="534.44" stroke="#333" stroke-width="1"/>
<text x="277.1" y="536.79" font-size="6.5" fill="#202020" text-anchor="end" textLength="7.2" lengthAdjust="spacingAndGlyphs">40</text>
<line x1="279.7" y1="521.76" x2="283" y2="521.76" stroke="#333" stroke-width="1"/>
<text x="277.1" y="524.11" font-size="6.5" fill="#202020" text-anchor="end" textLength="7.2" lengthAdjust="spacingAndGlyphs">60</text>
<line x1="279.7" y1="509.08" x2="283" y2="509.08" stroke="#333" stroke-width="1"/>
<text x="277.1" y="511.43" font-size="6.5" fill="#202020" text-anchor="end" textLength="7.2" lengthAdjust="spacingAndGlyphs">80</text>
<line x1="279.7" y1="496.4" x2="283" y2="496.4" stroke="#333" stroke-width="1"/>
<text x="277.1" y="498.75" font-size="6.5" fill="#202020" text-anchor="end" textLength="10.6" lengthAdjust="spacingAndGlyphs">100</text>
<text x="336.3" y="494.5" font-size="9" fill="#222" text-anchor="middle" textLength="18.8" lengthAdjust="spacingAndGlyphs">F53L</text>
<line x1="288.6" y1="559.8" x2="288.6" y2="562.4" stroke="#1a1a1a" stroke-width="0.9"/>
<text x="291.1" y="570" font-size="6.3" fill="#202020" text-anchor="end" transform="rotate(-45 291.1 570)">DMSO</text>
<line x1="300.54" y1="559.8" x2="300.54" y2="562.4" stroke="#1a1a1a" stroke-width="0.9"/>
<text x="303.04" y="570" font-size="6.3" fill="#202020" text-anchor="end" transform="rotate(-45 303.04 570)">Idela 5µM</text>
<line x1="312.48" y1="559.8" x2="312.48" y2="562.4" stroke="#1a1a1a" stroke-width="0.9"/>
<text x="314.98" y="570" font-size="6.3" fill="#202020" text-anchor="end" transform="rotate(-45 314.98 570)">Idela 10µM</text>
<line x1="324.42" y1="559.8" x2="324.42" y2="562.4" stroke="#1a1a1a" stroke-width="0.9"/>
<text x="326.92" y="570" font-size="6.3" fill="#202020" text-anchor="end" transform="rotate(-45 326.92 570)">CI-1040 5µM</text>
<line x1="336.36" y1="559.8" x2="336.36" y2="562.4" stroke="#1a1a1a" stroke-width="0.9"/>
<text x="338.86" y="570" font-size="6.3" fill="#202020" text-anchor="end" transform="rotate(-45 338.86 570)">Trametinib 5µM</text>
<line x1="348.3" y1="559.8" x2="348.3" y2="562.4" stroke="#1a1a1a" stroke-width="0.9"/>
<text x="350.8" y="570" font-size="6.3" fill="#202020" text-anchor="end" transform="rotate(-45 350.8 570)">Idela 5µM + CI-1040 5µM</text>
<line x1="360.24" y1="559.8" x2="360.24" y2="562.4" stroke="#1a1a1a" stroke-width="0.9"/>
<text x="362.74" y="570" font-size="6.3" fill="#202020" text-anchor="end" transform="rotate(-45 362.74 570)">Idela 5µM + Trametinib 5µM</text>
<line x1="372.18" y1="559.8" x2="372.18" y2="562.4" stroke="#1a1a1a" stroke-width="0.9"/>
<text x="374.68" y="570" font-size="6.3" fill="#202020" text-anchor="end" transform="rotate(-45 374.68 570)">Idela 10µM + CI-1040 5µM</text>
<line x1="384.12" y1="559.8" x2="384.12" y2="562.4" stroke="#1a1a1a" stroke-width="0.9"/>
<text x="386.62" y="570" font-size="6.3" fill="#202020" text-anchor="end" transform="rotate(-45 386.62 570)">Idela 10µM + Trametinib 5µM</text>
<line x1="288.6" y1="502" x2="288.6" y2="503" stroke="#70bc50" stroke-width="1"/>
<line x1="286.2" y1="502" x2="291" y2="502" stroke="#70bc50" stroke-width="1"/>
<line x1="286.2" y1="503" x2="291" y2="503" stroke="#70bc50" stroke-width="1"/>
<circle cx="286.8" cy="503" r="1.6" fill="#46a426"/>
<circle cx="288.6" cy="502" r="1.6" fill="#46a426"/>
<circle cx="290.4" cy="503" r="1.6" fill="#46a426"/>
<line x1="300.54" y1="506.2" x2="300.54" y2="507.8" stroke="#70bc50" stroke-width="1"/>
<line x1="298.14" y1="506.2" x2="302.94" y2="506.2" stroke="#70bc50" stroke-width="1"/>
<line x1="298.14" y1="507.8" x2="302.94" y2="507.8" stroke="#70bc50" stroke-width="1"/>
<circle cx="300.54" cy="505.7" r="1.6" fill="#46a426"/>
<circle cx="298.74" cy="507.5" r="1.6" fill="#46a426"/>
<circle cx="302.34" cy="508.3" r="1.6" fill="#46a426"/>
<line x1="297.04" y1="507" x2="304.04" y2="507" stroke="#3a3a3a" stroke-width="1.1"/>
<line x1="312.48" y1="506.2" x2="312.48" y2="509.4" stroke="#70bc50" stroke-width="1"/>
<line x1="310.08" y1="506.2" x2="314.88" y2="506.2" stroke="#70bc50" stroke-width="1"/>
<line x1="310.08" y1="509.4" x2="314.88" y2="509.4" stroke="#70bc50" stroke-width="1"/>
<circle cx="312.48" cy="504" r="1.6" fill="#46a426"/>
<circle cx="312.48" cy="507.8" r="1.6" fill="#46a426"/>
<circle cx="312.48" cy="510.8" r="1.6" fill="#46a426"/>
<line x1="308.98" y1="507.8" x2="315.98" y2="507.8" stroke="#3a3a3a" stroke-width="1.1"/>
<line x1="324.42" y1="509" x2="324.42" y2="512.6" stroke="#70bc50" stroke-width="1"/>
<line x1="322.02" y1="509" x2="326.82" y2="509" stroke="#70bc50" stroke-width="1"/>
<line x1="322.02" y1="512.6" x2="326.82" y2="512.6" stroke="#70bc50" stroke-width="1"/>
<circle cx="324.42" cy="506.2" r="1.6" fill="#46a426"/>
<circle cx="324.42" cy="508.3" r="1.6" fill="#46a426"/>
<circle cx="324.42" cy="512.5" r="1.6" fill="#46a426"/>
<circle cx="324.42" cy="514.2" r="1.6" fill="#46a426"/>
<line x1="320.92" y1="510.8" x2="327.92" y2="510.8" stroke="#3a3a3a" stroke-width="1.1"/>
<line x1="336.36" y1="506.8" x2="336.36" y2="509.8" stroke="#70bc50" stroke-width="1"/>
<line x1="333.96" y1="506.8" x2="338.76" y2="506.8" stroke="#70bc50" stroke-width="1"/>
<line x1="333.96" y1="509.8" x2="338.76" y2="509.8" stroke="#70bc50" stroke-width="1"/>
<circle cx="336.36" cy="505.5" r="1.6" fill="#46a426"/>
<circle cx="337.96" cy="507.2" r="1.6" fill="#46a426"/>
<circle cx="336.36" cy="512" r="1.6" fill="#46a426"/>
<line x1="332.86" y1="508.3" x2="339.86" y2="508.3" stroke="#3a3a3a" stroke-width="1.1"/>
<line x1="348.3" y1="515.4" x2="348.3" y2="520.2" stroke="#70bc50" stroke-width="1"/>
<line x1="345.9" y1="515.4" x2="350.7" y2="515.4" stroke="#70bc50" stroke-width="1"/>
<line x1="345.9" y1="520.2" x2="350.7" y2="520.2" stroke="#70bc50" stroke-width="1"/>
<circle cx="348.3" cy="512" r="1.6" fill="#46a426"/>
<circle cx="348.3" cy="518.8" r="1.6" fill="#46a426"/>
<circle cx="346.7" cy="521.4" r="1.6" fill="#46a426"/>
<circle cx="349.9" cy="521" r="1.6" fill="#46a426"/>
<line x1="344.8" y1="517.8" x2="351.8" y2="517.8" stroke="#3a3a3a" stroke-width="1.1"/>
<line x1="360.24" y1="515" x2="360.24" y2="520.6" stroke="#70bc50" stroke-width="1"/>
<line x1="357.84" y1="515" x2="362.64" y2="515" stroke="#70bc50" stroke-width="1"/>
<line x1="357.84" y1="520.6" x2="362.64" y2="520.6" stroke="#70bc50" stroke-width="1"/>
<circle cx="358.64" cy="514.2" r="1.6" fill="#46a426"/>
<circle cx="361.84" cy="514.8" r="1.6" fill="#46a426"/>
<circle cx="360.24" cy="519.9" r="1.6" fill="#46a426"/>
<circle cx="360.24" cy="525.2" r="1.6" fill="#46a426"/>
<line x1="356.74" y1="517.8" x2="363.74" y2="517.8" stroke="#3a3a3a" stroke-width="1.1"/>
<line x1="372.18" y1="517.2" x2="372.18" y2="517.8" stroke="#70bc50" stroke-width="1"/>
<line x1="369.78" y1="517.2" x2="374.58" y2="517.2" stroke="#70bc50" stroke-width="1"/>
<line x1="369.78" y1="517.8" x2="374.58" y2="517.8" stroke="#70bc50" stroke-width="1"/>
<circle cx="370.58" cy="517.8" r="1.6" fill="#46a426"/>
<circle cx="372.18" cy="517.2" r="1.6" fill="#46a426"/>
<circle cx="373.78" cy="517.2" r="1.6" fill="#46a426"/>
<line x1="384.12" y1="512.6" x2="384.12" y2="513.4" stroke="#70bc50" stroke-width="1"/>
<line x1="381.72" y1="512.6" x2="386.52" y2="512.6" stroke="#70bc50" stroke-width="1"/>
<line x1="381.72" y1="513.4" x2="386.52" y2="513.4" stroke="#70bc50" stroke-width="1"/>
<circle cx="382.52" cy="513.6" r="1.6" fill="#46a426"/>
<circle cx="384.12" cy="512.5" r="1.6" fill="#46a426"/>
<circle cx="385.72" cy="512.8" r="1.6" fill="#46a426"/>
<circle cx="345.45" cy="505.1" r="0.95" fill="#333"/>
<circle cx="348.3" cy="505.1" r="0.95" fill="#333"/>
<circle cx="351.15" cy="505.1" r="0.95" fill="#333"/>
<circle cx="357.39" cy="505.1" r="0.95" fill="#333"/>
<circle cx="360.24" cy="505.1" r="0.95" fill="#333"/>
<circle cx="363.09" cy="505.1" r="0.95" fill="#333"/>
<circle cx="369.93" cy="505.9" r="0.95" fill="#333"/>
<circle cx="372.78" cy="505.9" r="0.95" fill="#333"/>
<circle cx="375.63" cy="505.9" r="0.95" fill="#333"/>
<text x="378.48" y="507.3" font-size="5.6" fill="#555"><tspan font-style="italic">P</tspan> = .07</text>
<line x1="409.3" y1="493.3" x2="409.3" y2="560.3" stroke="#262626" stroke-width="1.3"/>
<line x1="408.7" y1="559.8" x2="515.6" y2="559.8" stroke="#383838" stroke-width="1.5"/>
<line x1="406" y1="559.8" x2="409.3" y2="559.8" stroke="#333" stroke-width="1"/>
<text x="403.4" y="562.15" font-size="6.5" fill="#202020" text-anchor="end" textLength="3.6" lengthAdjust="spacingAndGlyphs">0</text>
<line x1="406" y1="547.06" x2="409.3" y2="547.06" stroke="#333" stroke-width="1"/>
<text x="403.4" y="549.41" font-size="6.5" fill="#202020" text-anchor="end" textLength="7.2" lengthAdjust="spacingAndGlyphs">20</text>
<line x1="406" y1="534.32" x2="409.3" y2="534.32" stroke="#333" stroke-width="1"/>
<text x="403.4" y="536.67" font-size="6.5" fill="#202020" text-anchor="end" textLength="7.2" lengthAdjust="spacingAndGlyphs">40</text>
<line x1="406" y1="521.58" x2="409.3" y2="521.58" stroke="#333" stroke-width="1"/>
<text x="403.4" y="523.93" font-size="6.5" fill="#202020" text-anchor="end" textLength="7.2" lengthAdjust="spacingAndGlyphs">60</text>
<line x1="406" y1="508.84" x2="409.3" y2="508.84" stroke="#333" stroke-width="1"/>
<text x="403.4" y="511.19" font-size="6.5" fill="#202020" text-anchor="end" textLength="7.2" lengthAdjust="spacingAndGlyphs">80</text>
<line x1="406" y1="496.1" x2="409.3" y2="496.1" stroke="#333" stroke-width="1"/>
<text x="403.4" y="498.45" font-size="6.5" fill="#202020" text-anchor="end" textLength="10.6" lengthAdjust="spacingAndGlyphs">100</text>
<text x="462.6" y="494.5" font-size="9" fill="#222" text-anchor="middle" textLength="21.7" lengthAdjust="spacingAndGlyphs">Q56P</text>
<line x1="414.8" y1="559.8" x2="414.8" y2="562.4" stroke="#1a1a1a" stroke-width="0.9"/>
<text x="417.3" y="570" font-size="6.3" fill="#202020" text-anchor="end" transform="rotate(-45 417.3 570)">DMSO</text>
<line x1="426.63" y1="559.8" x2="426.63" y2="562.4" stroke="#1a1a1a" stroke-width="0.9"/>
<text x="429.13" y="570" font-size="6.3" fill="#202020" text-anchor="end" transform="rotate(-45 429.13 570)">Idela 5µM</text>
<line x1="438.46" y1="559.8" x2="438.46" y2="562.4" stroke="#1a1a1a" stroke-width="0.9"/>
<text x="440.96" y="570" font-size="6.3" fill="#202020" text-anchor="end" transform="rotate(-45 440.96 570)">Idela 10µM</text>
<line x1="450.29" y1="559.8" x2="450.29" y2="562.4" stroke="#1a1a1a" stroke-width="0.9"/>
<text x="452.79" y="570" font-size="6.3" fill="#202020" text-anchor="end" transform="rotate(-45 452.79 570)">CI-1040 5µM</text>
<line x1="462.12" y1="559.8" x2="462.12" y2="562.4" stroke="#1a1a1a" stroke-width="0.9"/>
<text x="464.62" y="570" font-size="6.3" fill="#202020" text-anchor="end" transform="rotate(-45 464.62 570)">Trametinib 5µM</text>
<line x1="473.95" y1="559.8" x2="473.95" y2="562.4" stroke="#1a1a1a" stroke-width="0.9"/>
<text x="476.45" y="570" font-size="6.3" fill="#202020" text-anchor="end" transform="rotate(-45 476.45 570)">Idela 5µM + CI-1040 5µM</text>
<line x1="485.78" y1="559.8" x2="485.78" y2="562.4" stroke="#1a1a1a" stroke-width="0.9"/>
<text x="488.28" y="570" font-size="6.3" fill="#202020" text-anchor="end" transform="rotate(-45 488.28 570)">Idela 5µM + Trametinib 5µM</text>
<line x1="497.61" y1="559.8" x2="497.61" y2="562.4" stroke="#1a1a1a" stroke-width="0.9"/>
<text x="500.11" y="570" font-size="6.3" fill="#202020" text-anchor="end" transform="rotate(-45 500.11 570)">Idela 10µM + CI-1040 5µM</text>
<line x1="509.44" y1="559.8" x2="509.44" y2="562.4" stroke="#1a1a1a" stroke-width="0.9"/>
<text x="511.94" y="570" font-size="6.3" fill="#202020" text-anchor="end" transform="rotate(-45 511.94 570)">Idela 10µM + Trametinib 5µM</text>
<line x1="414.8" y1="504.4" x2="414.8" y2="507" stroke="#7a4a9a" stroke-width="1"/>
<line x1="412.4" y1="504.4" x2="417.2" y2="504.4" stroke="#7a4a9a" stroke-width="1"/>
<line x1="412.4" y1="507" x2="417.2" y2="507" stroke="#7a4a9a" stroke-width="1"/>
<circle cx="414.8" cy="503" r="1.6" fill="#420c62"/>
<circle cx="413.2" cy="506.2" r="1.6" fill="#420c62"/>
<circle cx="416.4" cy="507.2" r="1.6" fill="#420c62"/>
<line x1="411.3" y1="505.7" x2="418.3" y2="505.7" stroke="#3a3a3a" stroke-width="1.1"/>
<line x1="426.63" y1="507.6" x2="426.63" y2="508.4" stroke="#7a4a9a" stroke-width="1"/>
<line x1="424.23" y1="507.6" x2="429.03" y2="507.6" stroke="#7a4a9a" stroke-width="1"/>
<line x1="424.23" y1="508.4" x2="429.03" y2="508.4" stroke="#7a4a9a" stroke-width="1"/>
<circle cx="425.03" cy="508" r="1.6" fill="#420c62"/>
<circle cx="426.63" cy="507.6" r="1.6" fill="#420c62"/>
<circle cx="428.23" cy="508.7" r="1.6" fill="#420c62"/>
<line x1="438.46" y1="506.6" x2="438.46" y2="507.4" stroke="#7a4a9a" stroke-width="1"/>
<line x1="436.06" y1="506.6" x2="440.86" y2="506.6" stroke="#7a4a9a" stroke-width="1"/>
<line x1="436.06" y1="507.4" x2="440.86" y2="507.4" stroke="#7a4a9a" stroke-width="1"/>
<circle cx="436.86" cy="507.8" r="1.6" fill="#420c62"/>
<circle cx="438.46" cy="506.2" r="1.6" fill="#420c62"/>
<circle cx="440.06" cy="507.5" r="1.6" fill="#420c62"/>
<line x1="450.29" y1="513" x2="450.29" y2="519.8" stroke="#7a4a9a" stroke-width="1"/>
<line x1="447.89" y1="513" x2="452.69" y2="513" stroke="#7a4a9a" stroke-width="1"/>
<line x1="447.89" y1="519.8" x2="452.69" y2="519.8" stroke="#7a4a9a" stroke-width="1"/>
<circle cx="450.29" cy="511.2" r="1.6" fill="#420c62"/>
<circle cx="450.29" cy="513" r="1.6" fill="#420c62"/>
<circle cx="450.29" cy="517.6" r="1.6" fill="#420c62"/>
<circle cx="450.29" cy="522.7" r="1.6" fill="#420c62"/>
<line x1="446.79" y1="516.4" x2="453.79" y2="516.4" stroke="#3a3a3a" stroke-width="1.1"/>
<line x1="462.12" y1="508.2" x2="462.12" y2="510.4" stroke="#7a4a9a" stroke-width="1"/>
<line x1="459.72" y1="508.2" x2="464.52" y2="508.2" stroke="#7a4a9a" stroke-width="1"/>
<line x1="459.72" y1="510.4" x2="464.52" y2="510.4" stroke="#7a4a9a" stroke-width="1"/>
<circle cx="462.12" cy="506.6" r="1.6" fill="#420c62"/>
<circle cx="460.52" cy="510" r="1.6" fill="#420c62"/>
<circle cx="463.72" cy="511.4" r="1.6" fill="#420c62"/>
<line x1="458.62" y1="509.3" x2="465.62" y2="509.3" stroke="#3a3a3a" stroke-width="1.1"/>
<line x1="473.95" y1="516.8" x2="473.95" y2="518.8" stroke="#7a4a9a" stroke-width="1"/>
<line x1="471.55" y1="516.8" x2="476.35" y2="516.8" stroke="#7a4a9a" stroke-width="1"/>
<line x1="471.55" y1="518.8" x2="476.35" y2="518.8" stroke="#7a4a9a" stroke-width="1"/>
<circle cx="472.35" cy="516.7" r="1.6" fill="#420c62"/>
<circle cx="475.55" cy="517.8" r="1.6" fill="#420c62"/>
<circle cx="473.95" cy="521" r="1.6" fill="#420c62"/>
<line x1="470.45" y1="517.8" x2="477.45" y2="517.8" stroke="#3a3a3a" stroke-width="1.1"/>
<line x1="485.78" y1="511.6" x2="485.78" y2="514.4" stroke="#7a4a9a" stroke-width="1"/>
<line x1="483.38" y1="511.6" x2="488.18" y2="511.6" stroke="#7a4a9a" stroke-width="1"/>
<line x1="483.38" y1="514.4" x2="488.18" y2="514.4" stroke="#7a4a9a" stroke-width="1"/>
<circle cx="485.78" cy="509.6" r="1.6" fill="#420c62"/>
<circle cx="484.18" cy="513.5" r="1.6" fill="#420c62"/>
<circle cx="487.38" cy="515.5" r="1.6" fill="#420c62"/>
<line x1="482.28" y1="513" x2="489.28" y2="513" stroke="#3a3a3a" stroke-width="1.1"/>
<line x1="497.61" y1="517.8" x2="497.61" y2="520.6" stroke="#7a4a9a" stroke-width="1"/>
<line x1="495.21" y1="517.8" x2="500.01" y2="517.8" stroke="#7a4a9a" stroke-width="1"/>
<line x1="495.21" y1="520.6" x2="500.01" y2="520.6" stroke="#7a4a9a" stroke-width="1"/>
<circle cx="496.01" cy="517.3" r="1.6" fill="#420c62"/>
<circle cx="499.21" cy="519.6" r="1.6" fill="#420c62"/>
<circle cx="497.61" cy="523.5" r="1.6" fill="#420c62"/>
<line x1="494.11" y1="519.2" x2="501.11" y2="519.2" stroke="#3a3a3a" stroke-width="1.1"/>
<line x1="509.44" y1="518" x2="509.44" y2="519" stroke="#7a4a9a" stroke-width="1"/>
<line x1="507.04" y1="518" x2="511.84" y2="518" stroke="#7a4a9a" stroke-width="1"/>
<line x1="507.04" y1="519" x2="511.84" y2="519" stroke="#7a4a9a" stroke-width="1"/>
<circle cx="507.84" cy="517.3" r="1.6" fill="#420c62"/>
<circle cx="511.04" cy="518.5" r="1.6" fill="#420c62"/>
<circle cx="509.44" cy="520" r="1.6" fill="#420c62"/>
<text x="441.26" y="504.2" font-size="5.6" fill="#555"><tspan font-style="italic">P</tspan> = .056</text>
<circle cx="472.52" cy="512.1" r="0.95" fill="#333"/>
<circle cx="475.38" cy="512.1" r="0.95" fill="#333"/>
<circle cx="494.76" cy="512.4" r="0.95" fill="#333"/>
<circle cx="497.61" cy="512.4" r="0.95" fill="#333"/>
<circle cx="500.46" cy="512.4" r="0.95" fill="#333"/>
<circle cx="508.01" cy="511.2" r="0.95" fill="#333"/>
<circle cx="510.87" cy="511.2" r="0.95" fill="#333"/>
<rect x="0.5" y="0.5" width="519" height="635" fill="none" stroke="#0a0a0a" stroke-width="1"/>
</svg>
</body></html>
